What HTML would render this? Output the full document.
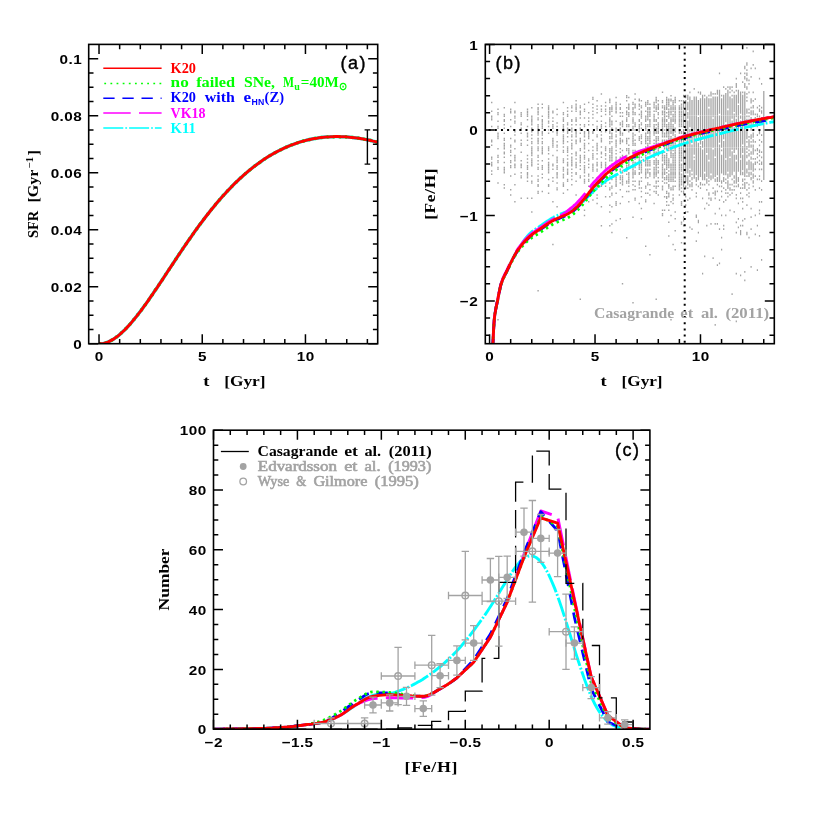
<!DOCTYPE html>
<html><head><meta charset="utf-8"><title>fig</title><style>html,body{margin:0;padding:0;background:#fff}svg{display:block;will-change:transform}</style></head><body>
<svg width="817" height="817" viewBox="0 0 817 817">
<rect width="817" height="817" fill="#fff"/>
<clipPath id="ca"><rect x="88.7" y="44.4" width="289.0" height="299.3"/></clipPath>
<g clip-path="url(#ca)" fill="none" stroke-linejoin="round">
<path d="M99 343.7 L101.4 343.7 L103.7 343.4 L106 342.8 L108.4 341.9 L110.7 340.7 L113.1 339.4 L115.4 337.8 L117.8 336.1 L120.1 334.2 L122.4 332 L124.8 329.8 L127.1 327.4 L129.5 324.8 L131.8 322.1 L134.1 319.3 L136.5 316.4 L138.8 313.4 L141.2 310.3 L143.5 307.1 L145.9 303.9 L148.2 300.6 L150.5 297.2 L152.9 293.8 L155.2 290.3 L157.6 286.9 L159.9 283.3 L162.3 279.8 L164.6 276.3 L166.9 272.7 L169.3 269.1 L171.6 265.6 L174 262 L176.3 258.5 L178.6 255 L181 251.5 L183.3 248 L185.7 244.6 L188 241.2 L190.4 237.8 L192.7 234.5 L195 231.2 L197.4 227.9 L199.7 224.7 L202.1 221.6 L204.4 218.5 L206.7 215.5 L209.1 212.5 L211.4 209.5 L213.8 206.7 L216.1 203.8 L218.5 201.1 L220.8 198.4 L223.1 195.7 L225.5 193.2 L227.8 190.6 L230.2 188.2 L232.5 185.8 L234.8 183.4 L237.2 181.2 L239.5 178.9 L241.9 176.8 L244.2 174.7 L246.6 172.7 L248.9 170.7 L251.2 168.8 L253.6 166.9 L255.9 165.2 L258.3 163.4 L260.6 161.8 L262.9 160.1 L265.3 158.6 L267.6 157.1 L270 155.6 L272.3 154.3 L274.7 152.9 L277 151.7 L279.3 150.5 L281.7 149.3 L284 148.2 L286.4 147.1 L288.7 146.1 L291.1 145.2 L293.4 144.3 L295.7 143.5 L298.1 142.7 L300.4 141.9 L302.8 141.2 L305.1 140.6 L307.4 140 L309.8 139.5 L312.1 139 L314.5 138.5 L316.8 138.2 L319.2 137.8 L321.5 137.5 L323.8 137.2 L326.2 137 L328.5 136.9 L330.9 136.7 L333.2 136.7 L335.5 136.6 L337.9 136.6 L340.2 136.7 L342.6 136.7 L344.9 136.8 L347.3 137 L349.6 137.2 L351.9 137.4 L354.3 137.7 L356.6 138 L359 138.3 L361.3 138.7 L363.6 139.1 L366 139.6 L368.3 140 L370.7 140.5 L373 141.1 L375.4 141.6 L377.7 142.2" stroke="#00ffff" stroke-width="3.4"/>
<path d="M99 343.7 L101.4 343.7 L103.7 343.4 L106 342.8 L108.4 341.9 L110.7 340.7 L113.1 339.4 L115.4 337.8 L117.8 336.1 L120.1 334.2 L122.4 332 L124.8 329.8 L127.1 327.4 L129.5 324.8 L131.8 322.1 L134.1 319.3 L136.5 316.4 L138.8 313.4 L141.2 310.3 L143.5 307.1 L145.9 303.9 L148.2 300.6 L150.5 297.2 L152.9 293.8 L155.2 290.3 L157.6 286.9 L159.9 283.3 L162.3 279.8 L164.6 276.3 L166.9 272.7 L169.3 269.1 L171.6 265.6 L174 262 L176.3 258.5 L178.6 255 L181 251.5 L183.3 248 L185.7 244.6 L188 241.2 L190.4 237.8 L192.7 234.5 L195 231.2 L197.4 227.9 L199.7 224.7 L202.1 221.6 L204.4 218.5 L206.7 215.5 L209.1 212.5 L211.4 209.5 L213.8 206.7 L216.1 203.8 L218.5 201.1 L220.8 198.4 L223.1 195.7 L225.5 193.2 L227.8 190.6 L230.2 188.2 L232.5 185.8 L234.8 183.4 L237.2 181.2 L239.5 178.9 L241.9 176.8 L244.2 174.7 L246.6 172.7 L248.9 170.7 L251.2 168.8 L253.6 166.9 L255.9 165.2 L258.3 163.4 L260.6 161.8 L262.9 160.1 L265.3 158.6 L267.6 157.1 L270 155.6 L272.3 154.3 L274.7 152.9 L277 151.7 L279.3 150.5 L281.7 149.3 L284 148.2 L286.4 147.1 L288.7 146.1 L291.1 145.2 L293.4 144.3 L295.7 143.5 L298.1 142.7 L300.4 141.9 L302.8 141.2 L305.1 140.6 L307.4 140 L309.8 139.5 L312.1 139 L314.5 138.5 L316.8 138.2 L319.2 137.8 L321.5 137.5 L323.8 137.2 L326.2 137 L328.5 136.9 L330.9 136.7 L333.2 136.7 L335.5 136.6 L337.9 136.6 L340.2 136.7 L342.6 136.7 L344.9 136.8 L347.3 137 L349.6 137.2 L351.9 137.4 L354.3 137.7 L356.6 138 L359 138.3 L361.3 138.7 L363.6 139.1 L366 139.6 L368.3 140 L370.7 140.5 L373 141.1 L375.4 141.6 L377.7 142.2" stroke="#00ff00" stroke-width="3.4" stroke-dasharray="2 4.13"/>
<path d="M99 343.7 L101.4 343.7 L103.7 343.4 L106 342.8 L108.4 341.9 L110.7 340.7 L113.1 339.4 L115.4 337.8 L117.8 336.1 L120.1 334.2 L122.4 332 L124.8 329.8 L127.1 327.4 L129.5 324.8 L131.8 322.1 L134.1 319.3 L136.5 316.4 L138.8 313.4 L141.2 310.3 L143.5 307.1 L145.9 303.9 L148.2 300.6 L150.5 297.2 L152.9 293.8 L155.2 290.3 L157.6 286.9 L159.9 283.3 L162.3 279.8 L164.6 276.3 L166.9 272.7 L169.3 269.1 L171.6 265.6 L174 262 L176.3 258.5 L178.6 255 L181 251.5 L183.3 248 L185.7 244.6 L188 241.2 L190.4 237.8 L192.7 234.5 L195 231.2 L197.4 227.9 L199.7 224.7 L202.1 221.6 L204.4 218.5 L206.7 215.5 L209.1 212.5 L211.4 209.5 L213.8 206.7 L216.1 203.8 L218.5 201.1 L220.8 198.4 L223.1 195.7 L225.5 193.2 L227.8 190.6 L230.2 188.2 L232.5 185.8 L234.8 183.4 L237.2 181.2 L239.5 178.9 L241.9 176.8 L244.2 174.7 L246.6 172.7 L248.9 170.7 L251.2 168.8 L253.6 166.9 L255.9 165.2 L258.3 163.4 L260.6 161.8 L262.9 160.1 L265.3 158.6 L267.6 157.1 L270 155.6 L272.3 154.3 L274.7 152.9 L277 151.7 L279.3 150.5 L281.7 149.3 L284 148.2 L286.4 147.1 L288.7 146.1 L291.1 145.2 L293.4 144.3 L295.7 143.5 L298.1 142.7 L300.4 141.9 L302.8 141.2 L305.1 140.6 L307.4 140 L309.8 139.5 L312.1 139 L314.5 138.5 L316.8 138.2 L319.2 137.8 L321.5 137.5 L323.8 137.2 L326.2 137 L328.5 136.9 L330.9 136.7 L333.2 136.7 L335.5 136.6 L337.9 136.6 L340.2 136.7 L342.6 136.7 L344.9 136.8 L347.3 137 L349.6 137.2 L351.9 137.4 L354.3 137.7 L356.6 138 L359 138.3 L361.3 138.7 L363.6 139.1 L366 139.6 L368.3 140 L370.7 140.5 L373 141.1 L375.4 141.6 L377.7 142.2" stroke="#ff0000" stroke-width="3.0"/>
</g>
<path d="M367.4 129.9V164.1 M364.6 129.9h5.6 M364.6 164.1h5.6" stroke="#000" stroke-width="1.4" fill="none"/>
<path d="M119.66 343.70v-4.8 M119.66 44.40v4.8 M140.31 343.70v-4.8 M140.31 44.40v4.8 M160.95 343.70v-4.8 M160.95 44.40v4.8 M181.59 343.70v-4.8 M181.59 44.40v4.8 M222.88 343.70v-4.8 M222.88 44.40v4.8 M243.52 343.70v-4.8 M243.52 44.40v4.8 M264.16 343.70v-4.8 M264.16 44.40v4.8 M284.81 343.70v-4.8 M284.81 44.40v4.8 M326.09 343.70v-4.8 M326.09 44.40v4.8 M346.74 343.70v-4.8 M346.74 44.40v4.8 M367.38 343.70v-4.8 M367.38 44.40v4.8 M99.02 343.70v-9.5 M99.02 44.40v9.5 M202.24 343.70v-9.5 M202.24 44.40v9.5 M305.45 343.70v-9.5 M305.45 44.40v9.5 M88.70 329.45h4.8 M377.70 329.45h-4.8 M88.70 315.20h4.8 M377.70 315.20h-4.8 M88.70 300.94h4.8 M377.70 300.94h-4.8 M88.70 272.44h4.8 M377.70 272.44h-4.8 M88.70 258.19h4.8 M377.70 258.19h-4.8 M88.70 243.93h4.8 M377.70 243.93h-4.8 M88.70 215.43h4.8 M377.70 215.43h-4.8 M88.70 201.18h4.8 M377.70 201.18h-4.8 M88.70 186.92h4.8 M377.70 186.92h-4.8 M88.70 158.42h4.8 M377.70 158.42h-4.8 M88.70 144.17h4.8 M377.70 144.17h-4.8 M88.70 129.91h4.8 M377.70 129.91h-4.8 M88.70 101.41h4.8 M377.70 101.41h-4.8 M88.70 87.16h4.8 M377.70 87.16h-4.8 M88.70 72.90h4.8 M377.70 72.90h-4.8 M88.70 343.70h9.5 M377.70 343.70h-9.5 M88.70 286.69h9.5 M377.70 286.69h-9.5 M88.70 229.68h9.5 M377.70 229.68h-9.5 M88.70 172.67h9.5 M377.70 172.67h-9.5 M88.70 115.66h9.5 M377.70 115.66h-9.5 M88.70 58.65h9.5 M377.70 58.65h-9.5" stroke="#000" stroke-width="1.50" fill="none"/>
<rect x="88.70" y="44.40" width="289.00" height="299.30" fill="none" stroke="#000" stroke-width="1.60"/>
<text transform="translate(99.2,361.1) scale(1.16,1)" font-family="'Liberation Sans', sans-serif" font-size="13.2px" font-weight="bold" text-anchor="middle" letter-spacing="0.35">0</text>
<text transform="translate(202.4,361.1) scale(1.16,1)" font-family="'Liberation Sans', sans-serif" font-size="13.2px" font-weight="bold" text-anchor="middle" letter-spacing="0.35">5</text>
<text transform="translate(305.7,361.1) scale(1.16,1)" font-family="'Liberation Sans', sans-serif" font-size="13.2px" font-weight="bold" text-anchor="middle" letter-spacing="0.35">10</text>
<text transform="translate(82.1,348.9) scale(1.16,1)" font-family="'Liberation Sans', sans-serif" font-size="13.2px" font-weight="bold" text-anchor="end" letter-spacing="0.35">0</text>
<text transform="translate(82.1,291.9) scale(1.16,1)" font-family="'Liberation Sans', sans-serif" font-size="13.2px" font-weight="bold" text-anchor="end" letter-spacing="0.35">0.02</text>
<text transform="translate(82.1,234.9) scale(1.16,1)" font-family="'Liberation Sans', sans-serif" font-size="13.2px" font-weight="bold" text-anchor="end" letter-spacing="0.35">0.04</text>
<text transform="translate(82.1,177.9) scale(1.16,1)" font-family="'Liberation Sans', sans-serif" font-size="13.2px" font-weight="bold" text-anchor="end" letter-spacing="0.35">0.06</text>
<text transform="translate(82.1,120.9) scale(1.16,1)" font-family="'Liberation Sans', sans-serif" font-size="13.2px" font-weight="bold" text-anchor="end" letter-spacing="0.35">0.08</text>
<text transform="translate(82.1,63.9) scale(1.16,1)" font-family="'Liberation Sans', sans-serif" font-size="13.2px" font-weight="bold" text-anchor="end" letter-spacing="0.35">0.1</text>
<g fill="none" stroke-width="1.5">
<path d="M103.3 68.2H161.6" stroke="#ff0000"/>
<path d="M103.3 83.4H161.6" stroke="#00ff00" stroke-dasharray="1.8 4.33" stroke-dashoffset="-1"/>
<path d="M103.3 98.3H161.6" stroke="#0000ff" stroke-dasharray="11.3 7.8"/>
<path d="M103.3 113.1H161.6" stroke="#ff00ff" stroke-dasharray="27.4 8.3"/>
<path d="M103.3 128.0H161.6" stroke="#00ffff" stroke-dasharray="20 2 1.8 2"/>
</g>
<text x="170.6" y="73.1" font-family="'Liberation Serif', serif" font-size="14.0px" font-weight="bold" fill="#ff0000" textLength="25.4" lengthAdjust="spacingAndGlyphs" >K20</text>
<text x="170.6" y="86.5" font-family="'Liberation Serif', serif" font-size="14.0px" font-weight="bold" fill="#00ff00" textLength="18.2" lengthAdjust="spacingAndGlyphs" >no</text>
<text x="196.2" y="86.5" font-family="'Liberation Serif', serif" font-size="14.0px" font-weight="bold" fill="#00ff00" textLength="39.0" lengthAdjust="spacingAndGlyphs" >failed</text>
<text x="244.0" y="86.5" font-family="'Liberation Serif', serif" font-size="14.0px" font-weight="bold" fill="#00ff00" textLength="31.0" lengthAdjust="spacingAndGlyphs" >SNe,</text>
<text x="283.0" y="86.5" font-family="'Liberation Serif', serif" font-size="14.0px" font-weight="bold" fill="#00ff00" textLength="11.0" lengthAdjust="spacingAndGlyphs" >M</text>
<text x="294.2" y="89.9" font-family="'Liberation Serif', serif" font-size="9.5px" font-weight="bold" fill="#00ff00" textLength="5.6" lengthAdjust="spacingAndGlyphs" >u</text>
<text x="300.8" y="86.5" font-family="'Liberation Serif', serif" font-size="14.0px" font-weight="bold" fill="#00ff00" textLength="38.0" lengthAdjust="spacingAndGlyphs" >=40M</text>
<text x="338.8" y="90.3" font-family="'Liberation Serif', serif" font-size="11.0px" font-weight="bold" fill="#00ff00" textLength="8.0" lengthAdjust="spacingAndGlyphs" >&#8857;</text>
<text x="170.6" y="101.6" font-family="'Liberation Serif', serif" font-size="14.0px" font-weight="bold" fill="#0000ff" textLength="25.4" lengthAdjust="spacingAndGlyphs" >K20</text>
<text x="204.8" y="101.6" font-family="'Liberation Serif', serif" font-size="14.0px" font-weight="bold" fill="#0000ff" textLength="30.0" lengthAdjust="spacingAndGlyphs" >with</text>
<text x="243.4" y="101.6" font-family="'Liberation Serif', serif" font-size="14.0px" font-weight="bold" fill="#0000ff" textLength="7.6" lengthAdjust="spacingAndGlyphs" >e</text>
<text x="251.6" y="105.0" font-family="'Liberation Sans', sans-serif" font-size="8.5px" font-weight="bold" fill="#0000ff" textLength="12.6" lengthAdjust="spacingAndGlyphs" >HN</text>
<text x="264.6" y="101.6" font-family="'Liberation Serif', serif" font-size="14.0px" font-weight="bold" fill="#0000ff" textLength="19.4" lengthAdjust="spacingAndGlyphs" >(Z)</text>
<text x="170.6" y="117.8" font-family="'Liberation Serif', serif" font-size="14.0px" font-weight="bold" fill="#ff00ff" textLength="35.0" lengthAdjust="spacingAndGlyphs" >VK18</text>
<text x="170.6" y="132.9" font-family="'Liberation Serif', serif" font-size="14.0px" font-weight="bold" fill="#00ffff" textLength="25.2" lengthAdjust="spacingAndGlyphs" >K11</text>
<text x="340.5" y="69.3" font-family="'Liberation Sans', sans-serif" font-size="18.0px" font-weight="normal" text-anchor="start" fill="#000" letter-spacing="1.50" stroke="#000" stroke-width="0.4">(a)</text>
<text x="203.3" y="386.2" font-family="'Liberation Serif', serif" font-size="14.0px" font-weight="bold" fill="#000" textLength="6.2" lengthAdjust="spacingAndGlyphs" >t</text>
<text x="224.2" y="386.2" font-family="'Liberation Serif', serif" font-size="14.0px" font-weight="bold" fill="#000" textLength="41.4" lengthAdjust="spacingAndGlyphs" >[Gyr]</text>
<g transform="translate(38.3,238.1) rotate(-90)">
<text x="0.0" y="0.0" font-family="'Liberation Serif', serif" font-size="14.0px" font-weight="bold" fill="#000" textLength="27.2" lengthAdjust="spacingAndGlyphs" >SFR</text>
<text x="35.5" y="0.0" font-family="'Liberation Serif', serif" font-size="14.0px" font-weight="bold" fill="#000" textLength="33.0" lengthAdjust="spacingAndGlyphs" >[Gyr</text>
<text x="69.8" y="-5.0" font-family="'Liberation Serif', serif" font-size="9.5px" font-weight="bold" fill="#000" textLength="11.5" lengthAdjust="spacingAndGlyphs" >&#8722;1</text>
<text x="82.5" y="0.0" font-family="'Liberation Serif', serif" font-size="14.0px" font-weight="bold" fill="#000" textLength="5.5" lengthAdjust="spacingAndGlyphs" >]</text>
</g>
<clipPath id="cb"><rect x="485.3" y="44.4" width="289.0" height="299.3"/></clipPath>
<g clip-path="url(#cb)">
<path d="M491.7 173.6v1.50M491.7 170.2v1.50M491.7 165.1v1.50M491.7 163.4v1.50M491.7 161.7v1.50M491.7 158.2v1.50M491.7 156.5v1.50M491.7 144.6v1.50M491.7 141.1v1.50M491.7 139.4v1.50M491.7 125.7v1.50M491.7 118.9v1.50M491.7 117.2v1.50M491.7 115.5v1.50M491.7 110.4v1.50M491.7 101.8v1.50M498.0 319.0v1.50M498.0 182.2v1.50M498.0 168.5v1.50M498.0 166.8v1.50M498.0 161.7v1.50M498.0 159.9v1.50M498.0 156.5v1.50M498.0 154.8v1.50M498.0 148.0v1.50M498.0 137.7v1.50M498.0 136.0v1.50M498.0 134.3v1.50M498.0 132.6v1.50M498.0 127.5v1.50M498.0 125.7v1.50M498.0 120.6v1.50M498.0 113.8v1.50M498.0 112.1v1.50M498.0 108.6v1.50M504.3 187.3v1.50M504.3 183.9v1.50M504.3 171.9v1.50M504.3 170.2v1.50M504.3 168.5v1.50M504.3 166.8v1.50M504.3 161.7v1.50M504.3 156.5v1.50M504.3 153.1v1.50M504.3 151.4v1.50M504.3 148.0v1.50M504.3 146.3v1.50M504.3 144.6v1.50M504.3 142.8v1.50M504.3 139.4v1.50M504.3 137.7v1.50M504.3 132.6v1.50M504.3 127.5v1.50M504.3 124.0v1.50M504.3 120.6v1.50M504.3 118.9v1.50M504.3 115.5v1.50M504.3 113.8v1.50M504.3 106.9v1.50M510.7 194.2v1.50M510.7 189.0v1.50M510.7 175.3v1.50M510.7 166.8v1.50M510.7 165.1v1.50M510.7 161.7v1.50M510.7 159.9v1.50M510.7 154.8v1.50M510.7 151.4v1.50M510.7 149.7v1.50M510.7 146.3v1.50M510.7 144.6v1.50M510.7 137.7v1.50M510.7 125.7v1.50M510.7 118.9v1.50M510.7 112.1v1.50M510.7 110.4v1.50M510.7 108.6v1.50M514.9 201.0v1.50M514.9 183.9v1.50M514.9 173.6v1.50M514.9 166.8v1.50M514.9 165.1v1.50M514.9 163.4v1.50M514.9 159.9v1.50M514.9 158.2v1.50M514.9 156.5v1.50M514.9 154.8v1.50M514.9 148.0v1.50M514.9 141.1v1.50M514.9 139.4v1.50M514.9 134.3v1.50M514.9 130.9v1.50M514.9 129.2v1.50M514.9 122.3v1.50M514.9 120.6v1.50M514.9 117.2v1.50M514.9 115.5v1.50M514.9 112.1v1.50M514.9 110.4v1.50M514.9 101.8v1.50M521.2 197.6v1.50M521.2 177.1v1.50M521.2 175.3v1.50M521.2 171.9v1.50M521.2 166.8v1.50M521.2 165.1v1.50M521.2 163.4v1.50M521.2 159.9v1.50M521.2 151.4v1.50M521.2 144.6v1.50M521.2 142.8v1.50M521.2 139.4v1.50M521.2 132.6v1.50M521.2 129.2v1.50M521.2 127.5v1.50M521.2 124.0v1.50M521.2 122.3v1.50M521.2 115.5v1.50M521.2 113.8v1.50M521.2 112.1v1.50M527.5 197.6v1.50M527.5 180.5v1.50M527.5 177.1v1.50M527.5 175.3v1.50M527.5 173.6v1.50M527.5 171.9v1.50M527.5 168.5v1.50M527.5 166.8v1.50M527.5 165.1v1.50M527.5 161.7v1.50M527.5 158.2v1.50M527.5 154.8v1.50M527.5 144.6v1.50M527.5 139.4v1.50M527.5 136.0v1.50M527.5 134.3v1.50M527.5 132.6v1.50M527.5 125.7v1.50M527.5 118.9v1.50M527.5 115.5v1.50M527.5 113.8v1.50M527.5 112.1v1.50M527.5 110.4v1.50M527.5 108.6v1.50M531.8 211.3v1.50M531.8 197.6v1.50M531.8 182.2v1.50M531.8 180.5v1.50M531.8 175.3v1.50M531.8 165.1v1.50M531.8 163.4v1.50M531.8 161.7v1.50M531.8 159.9v1.50M531.8 158.2v1.50M531.8 154.8v1.50M531.8 153.1v1.50M531.8 151.4v1.50M531.8 149.7v1.50M531.8 148.0v1.50M531.8 146.3v1.50M531.8 142.8v1.50M531.8 141.1v1.50M531.8 137.7v1.50M531.8 134.3v1.50M531.8 130.9v1.50M531.8 129.2v1.50M531.8 127.5v1.50M531.8 124.0v1.50M531.8 122.3v1.50M531.8 120.6v1.50M531.8 118.9v1.50M531.8 117.2v1.50M531.8 115.5v1.50M531.8 106.9v1.50M538.1 289.9v1.50M538.1 192.4v1.50M538.1 190.7v1.50M538.1 185.6v1.50M538.1 183.9v1.50M538.1 180.5v1.50M538.1 178.8v1.50M538.1 175.3v1.50M538.1 168.5v1.50M538.1 166.8v1.50M538.1 163.4v1.50M538.1 159.9v1.50M538.1 156.5v1.50M538.1 154.8v1.50M538.1 149.7v1.50M538.1 148.0v1.50M538.1 146.3v1.50M538.1 142.8v1.50M538.1 141.1v1.50M538.1 139.4v1.50M538.1 137.7v1.50M538.1 134.3v1.50M538.1 132.6v1.50M538.1 130.9v1.50M538.1 129.2v1.50M538.1 127.5v1.50M538.1 125.7v1.50M538.1 124.0v1.50M538.1 118.9v1.50M538.1 117.2v1.50M538.1 113.8v1.50M538.1 112.1v1.50M538.1 110.4v1.50M538.1 108.6v1.50M538.1 106.9v1.50M538.1 103.5v1.50M542.3 190.7v1.50M542.3 177.1v1.50M542.3 173.6v1.50M542.3 168.5v1.50M542.3 166.8v1.50M542.3 165.1v1.50M542.3 159.9v1.50M542.3 153.1v1.50M542.3 151.4v1.50M542.3 149.7v1.50M542.3 148.0v1.50M542.3 146.3v1.50M542.3 142.8v1.50M542.3 141.1v1.50M542.3 137.7v1.50M542.3 134.3v1.50M542.3 132.6v1.50M542.3 130.9v1.50M542.3 127.5v1.50M542.3 125.7v1.50M542.3 124.0v1.50M542.3 122.3v1.50M542.3 120.6v1.50M542.3 118.9v1.50M542.3 115.5v1.50M542.3 106.9v1.50M542.3 103.5v1.50M548.6 192.4v1.50M548.6 185.6v1.50M548.6 183.9v1.50M548.6 178.8v1.50M548.6 171.9v1.50M548.6 170.2v1.50M548.6 168.5v1.50M548.6 166.8v1.50M548.6 165.1v1.50M548.6 163.4v1.50M548.6 161.7v1.50M548.6 158.2v1.50M548.6 153.1v1.50M548.6 149.7v1.50M548.6 148.0v1.50M548.6 146.3v1.50M548.6 132.6v1.50M548.6 129.2v1.50M548.6 125.7v1.50M548.6 122.3v1.50M548.6 120.6v1.50M548.6 117.2v1.50M548.6 115.5v1.50M548.6 113.8v1.50M548.6 112.1v1.50M548.6 110.4v1.50M548.6 108.6v1.50M548.6 106.9v1.50M548.6 105.2v1.50M552.9 243.8v1.50M552.9 201.0v1.50M552.9 180.5v1.50M552.9 177.1v1.50M552.9 168.5v1.50M552.9 165.1v1.50M552.9 163.4v1.50M552.9 154.8v1.50M552.9 146.3v1.50M552.9 144.6v1.50M552.9 142.8v1.50M552.9 141.1v1.50M552.9 139.4v1.50M552.9 137.7v1.50M552.9 130.9v1.50M552.9 127.5v1.50M552.9 125.7v1.50M552.9 124.0v1.50M552.9 120.6v1.50M552.9 117.2v1.50M552.9 112.1v1.50M552.9 110.4v1.50M557.1 206.1v1.50M557.1 189.0v1.50M557.1 187.3v1.50M557.1 182.2v1.50M557.1 177.1v1.50M557.1 175.3v1.50M557.1 173.6v1.50M557.1 171.9v1.50M557.1 168.5v1.50M557.1 166.8v1.50M557.1 165.1v1.50M557.1 161.7v1.50M557.1 159.9v1.50M557.1 158.2v1.50M557.1 156.5v1.50M557.1 149.7v1.50M557.1 146.3v1.50M557.1 144.6v1.50M557.1 141.1v1.50M557.1 134.3v1.50M557.1 132.6v1.50M557.1 130.9v1.50M557.1 125.7v1.50M557.1 122.3v1.50M557.1 113.8v1.50M557.1 108.6v1.50M563.4 192.4v1.50M563.4 185.6v1.50M563.4 183.9v1.50M563.4 182.2v1.50M563.4 177.1v1.50M563.4 175.3v1.50M563.4 173.6v1.50M563.4 170.2v1.50M563.4 168.5v1.50M563.4 166.8v1.50M563.4 161.7v1.50M563.4 159.9v1.50M563.4 158.2v1.50M563.4 151.4v1.50M563.4 149.7v1.50M563.4 146.3v1.50M563.4 142.8v1.50M563.4 141.1v1.50M563.4 139.4v1.50M563.4 137.7v1.50M563.4 136.0v1.50M563.4 134.3v1.50M563.4 130.9v1.50M563.4 129.2v1.50M563.4 127.5v1.50M563.4 125.7v1.50M563.4 124.0v1.50M563.4 120.6v1.50M563.4 118.9v1.50M563.4 117.2v1.50M563.4 113.8v1.50M563.4 112.1v1.50M563.4 101.8v1.50M567.6 189.0v1.50M567.6 180.5v1.50M567.6 178.8v1.50M567.6 173.6v1.50M567.6 171.9v1.50M567.6 170.2v1.50M567.6 168.5v1.50M567.6 165.1v1.50M567.6 163.4v1.50M567.6 161.7v1.50M567.6 158.2v1.50M567.6 154.8v1.50M567.6 151.4v1.50M567.6 149.7v1.50M567.6 148.0v1.50M567.6 146.3v1.50M567.6 141.1v1.50M567.6 136.0v1.50M567.6 132.6v1.50M567.6 130.9v1.50M567.6 129.2v1.50M567.6 127.5v1.50M567.6 124.0v1.50M567.6 122.3v1.50M567.6 115.5v1.50M567.6 113.8v1.50M567.6 110.4v1.50M567.6 106.9v1.50M571.8 183.9v1.50M571.8 178.8v1.50M571.8 175.3v1.50M571.8 171.9v1.50M571.8 168.5v1.50M571.8 165.1v1.50M571.8 163.4v1.50M571.8 161.7v1.50M571.8 159.9v1.50M571.8 158.2v1.50M571.8 156.5v1.50M571.8 153.1v1.50M571.8 148.0v1.50M571.8 146.3v1.50M571.8 144.6v1.50M571.8 142.8v1.50M571.8 139.4v1.50M571.8 136.0v1.50M571.8 134.3v1.50M571.8 130.9v1.50M571.8 129.2v1.50M571.8 127.5v1.50M571.8 124.0v1.50M571.8 120.6v1.50M571.8 118.9v1.50M571.8 110.4v1.50M571.8 106.9v1.50M571.8 105.2v1.50M576.1 194.2v1.50M576.1 180.5v1.50M576.1 173.6v1.50M576.1 171.9v1.50M576.1 166.8v1.50M576.1 165.1v1.50M576.1 163.4v1.50M576.1 161.7v1.50M576.1 158.2v1.50M576.1 154.8v1.50M576.1 153.1v1.50M576.1 151.4v1.50M576.1 142.8v1.50M576.1 141.1v1.50M576.1 139.4v1.50M576.1 136.0v1.50M576.1 134.3v1.50M576.1 132.6v1.50M576.1 130.9v1.50M576.1 124.0v1.50M576.1 120.6v1.50M576.1 118.9v1.50M576.1 117.2v1.50M576.1 110.4v1.50M576.1 108.6v1.50M576.1 106.9v1.50M576.1 105.2v1.50M576.1 103.5v1.50M576.1 100.1v1.50M580.3 298.5v1.50M580.3 177.1v1.50M580.3 175.3v1.50M580.3 168.5v1.50M580.3 165.1v1.50M580.3 161.7v1.50M580.3 159.9v1.50M580.3 158.2v1.50M580.3 156.5v1.50M580.3 154.8v1.50M580.3 149.7v1.50M580.3 148.0v1.50M580.3 141.1v1.50M580.3 139.4v1.50M580.3 137.7v1.50M580.3 132.6v1.50M580.3 129.2v1.50M580.3 127.5v1.50M580.3 124.0v1.50M580.3 117.2v1.50M580.3 113.8v1.50M580.3 112.1v1.50M580.3 110.4v1.50M580.3 106.9v1.50M580.3 105.2v1.50M584.5 214.7v1.50M584.5 209.5v1.50M584.5 195.9v1.50M584.5 182.2v1.50M584.5 180.5v1.50M584.5 178.8v1.50M584.5 175.3v1.50M584.5 171.9v1.50M584.5 170.2v1.50M584.5 168.5v1.50M584.5 166.8v1.50M584.5 165.1v1.50M584.5 161.7v1.50M584.5 158.2v1.50M584.5 156.5v1.50M584.5 154.8v1.50M584.5 151.4v1.50M584.5 148.0v1.50M584.5 146.3v1.50M584.5 144.6v1.50M584.5 142.8v1.50M584.5 139.4v1.50M584.5 136.0v1.50M584.5 134.3v1.50M584.5 132.6v1.50M584.5 130.9v1.50M584.5 125.7v1.50M584.5 124.0v1.50M584.5 117.2v1.50M584.5 110.4v1.50M584.5 108.6v1.50M584.5 103.5v1.50M588.7 201.0v1.50M588.7 185.6v1.50M588.7 180.5v1.50M588.7 178.8v1.50M588.7 175.3v1.50M588.7 173.6v1.50M588.7 166.8v1.50M588.7 163.4v1.50M588.7 159.9v1.50M588.7 158.2v1.50M588.7 149.7v1.50M588.7 142.8v1.50M588.7 137.7v1.50M588.7 136.0v1.50M588.7 134.3v1.50M588.7 132.6v1.50M588.7 130.9v1.50M588.7 124.0v1.50M588.7 120.6v1.50M588.7 117.2v1.50M588.7 112.1v1.50M588.7 101.8v1.50M592.9 199.3v1.50M592.9 192.4v1.50M592.9 187.3v1.50M592.9 183.9v1.50M592.9 182.2v1.50M592.9 177.1v1.50M592.9 170.2v1.50M592.9 168.5v1.50M592.9 166.8v1.50M592.9 165.1v1.50M592.9 163.4v1.50M592.9 158.2v1.50M592.9 156.5v1.50M592.9 154.8v1.50M592.9 153.1v1.50M592.9 149.7v1.50M592.9 146.3v1.50M592.9 139.4v1.50M592.9 132.6v1.50M592.9 130.9v1.50M592.9 124.0v1.50M592.9 117.2v1.50M592.9 113.8v1.50M592.9 110.4v1.50M592.9 106.9v1.50M592.9 103.5v1.50M592.9 98.4v1.50M592.9 96.7v1.50M597.1 202.7v1.50M597.1 197.6v1.50M597.1 194.2v1.50M597.1 187.3v1.50M597.1 185.6v1.50M597.1 183.9v1.50M597.1 182.2v1.50M597.1 180.5v1.50M597.1 178.8v1.50M597.1 177.1v1.50M597.1 170.2v1.50M597.1 168.5v1.50M597.1 165.1v1.50M597.1 163.4v1.50M597.1 161.7v1.50M597.1 158.2v1.50M597.1 153.1v1.50M597.1 149.7v1.50M597.1 148.0v1.50M597.1 146.3v1.50M597.1 144.6v1.50M597.1 142.8v1.50M597.1 136.0v1.50M597.1 134.3v1.50M597.1 129.2v1.50M597.1 127.5v1.50M597.1 125.7v1.50M597.1 120.6v1.50M597.1 112.1v1.50M597.1 108.6v1.50M597.1 105.2v1.50M597.1 100.1v1.50M601.4 224.9v1.50M601.4 206.1v1.50M601.4 185.6v1.50M601.4 183.9v1.50M601.4 182.2v1.50M601.4 178.8v1.50M601.4 166.8v1.50M601.4 165.1v1.50M601.4 163.4v1.50M601.4 161.7v1.50M601.4 156.5v1.50M601.4 153.1v1.50M601.4 151.4v1.50M601.4 146.3v1.50M601.4 141.1v1.50M601.4 139.4v1.50M601.4 137.7v1.50M601.4 134.3v1.50M601.4 130.9v1.50M601.4 127.5v1.50M601.4 125.7v1.50M601.4 124.0v1.50M601.4 120.6v1.50M601.4 115.5v1.50M601.4 110.4v1.50M601.4 108.6v1.50M601.4 105.2v1.50M601.4 93.2v1.50M605.6 195.9v1.50M605.6 185.6v1.50M605.6 182.2v1.50M605.6 178.8v1.50M605.6 168.5v1.50M605.6 166.8v1.50M605.6 165.1v1.50M605.6 163.4v1.50M605.6 161.7v1.50M605.6 158.2v1.50M605.6 154.8v1.50M605.6 153.1v1.50M605.6 149.7v1.50M605.6 148.0v1.50M605.6 146.3v1.50M605.6 130.9v1.50M605.6 125.7v1.50M605.6 122.3v1.50M605.6 113.8v1.50M605.6 110.4v1.50M605.6 108.6v1.50M605.6 105.2v1.50M605.6 101.8v1.50M609.8 224.9v1.50M609.8 211.3v1.50M609.8 204.4v1.50M609.8 195.9v1.50M609.8 189.0v1.50M609.8 187.3v1.50M609.8 182.2v1.50M609.8 175.3v1.50M609.8 171.9v1.50M609.8 170.2v1.50M609.8 165.1v1.50M609.8 159.9v1.50M609.8 158.2v1.50M609.8 156.5v1.50M609.8 154.8v1.50M609.8 151.4v1.50M609.8 149.7v1.50M609.8 148.0v1.50M609.8 142.8v1.50M609.8 141.1v1.50M609.8 137.7v1.50M609.8 136.0v1.50M609.8 132.6v1.50M609.8 130.9v1.50M609.8 129.2v1.50M609.8 125.7v1.50M609.8 124.0v1.50M609.8 122.3v1.50M609.8 120.6v1.50M609.8 118.9v1.50M609.8 117.2v1.50M609.8 113.8v1.50M609.8 112.1v1.50M609.8 110.4v1.50M609.8 108.6v1.50M609.8 106.9v1.50M609.8 101.8v1.50M609.8 100.1v1.50M609.8 98.4v1.50M611.9 231.8v1.50M611.9 223.2v1.50M611.9 206.1v1.50M611.9 194.2v1.50M611.9 192.4v1.50M611.9 187.3v1.50M611.9 185.6v1.50M611.9 178.8v1.50M611.9 171.9v1.50M611.9 168.5v1.50M611.9 165.1v1.50M611.9 163.4v1.50M611.9 159.9v1.50M611.9 158.2v1.50M611.9 156.5v1.50M611.9 154.8v1.50M611.9 153.1v1.50M611.9 151.4v1.50M611.9 149.7v1.50M611.9 148.0v1.50M611.9 146.3v1.50M611.9 141.1v1.50M611.9 137.7v1.50M611.9 136.0v1.50M611.9 134.3v1.50M611.9 132.6v1.50M611.9 129.2v1.50M611.9 127.5v1.50M611.9 124.0v1.50M611.9 122.3v1.50M611.9 120.6v1.50M611.9 115.5v1.50M611.9 110.4v1.50M611.9 108.6v1.50M611.9 106.9v1.50M611.9 105.2v1.50M616.1 219.8v1.50M616.1 204.4v1.50M616.1 202.7v1.50M616.1 201.0v1.50M616.1 192.4v1.50M616.1 185.6v1.50M616.1 183.9v1.50M616.1 182.2v1.50M616.1 180.5v1.50M616.1 178.8v1.50M616.1 177.1v1.50M616.1 175.3v1.50M616.1 170.2v1.50M616.1 168.5v1.50M616.1 165.1v1.50M616.1 163.4v1.50M616.1 161.7v1.50M616.1 159.9v1.50M616.1 158.2v1.50M616.1 156.5v1.50M616.1 153.1v1.50M616.1 149.7v1.50M616.1 146.3v1.50M616.1 144.6v1.50M616.1 142.8v1.50M616.1 141.1v1.50M616.1 139.4v1.50M616.1 136.0v1.50M616.1 134.3v1.50M616.1 130.9v1.50M616.1 129.2v1.50M616.1 127.5v1.50M616.1 120.6v1.50M616.1 112.1v1.50M616.1 110.4v1.50M616.1 108.6v1.50M616.1 106.9v1.50M616.1 105.2v1.50M616.1 103.5v1.50M616.1 101.8v1.50M616.1 96.7v1.50M620.3 218.1v1.50M620.3 202.7v1.50M620.3 189.0v1.50M620.3 182.2v1.50M620.3 178.8v1.50M620.3 177.1v1.50M620.3 175.3v1.50M620.3 170.2v1.50M620.3 168.5v1.50M620.3 165.1v1.50M620.3 163.4v1.50M620.3 161.7v1.50M620.3 158.2v1.50M620.3 156.5v1.50M620.3 151.4v1.50M620.3 148.0v1.50M620.3 142.8v1.50M620.3 141.1v1.50M620.3 139.4v1.50M620.3 137.7v1.50M620.3 134.3v1.50M620.3 132.6v1.50M620.3 130.9v1.50M620.3 129.2v1.50M620.3 127.5v1.50M620.3 124.0v1.50M620.3 122.3v1.50M620.3 115.5v1.50M620.3 112.1v1.50M620.3 108.6v1.50M620.3 106.9v1.50M620.3 103.5v1.50M622.5 283.1v1.50M622.5 195.9v1.50M622.5 183.9v1.50M622.5 182.2v1.50M622.5 180.5v1.50M622.5 178.8v1.50M622.5 177.1v1.50M622.5 175.3v1.50M622.5 171.9v1.50M622.5 170.2v1.50M622.5 166.8v1.50M622.5 163.4v1.50M622.5 159.9v1.50M622.5 158.2v1.50M622.5 156.5v1.50M622.5 154.8v1.50M622.5 149.7v1.50M622.5 141.1v1.50M622.5 139.4v1.50M622.5 134.3v1.50M622.5 132.6v1.50M622.5 125.7v1.50M622.5 124.0v1.50M622.5 122.3v1.50M622.5 120.6v1.50M622.5 115.5v1.50M622.5 112.1v1.50M626.7 236.9v1.50M626.7 190.7v1.50M626.7 182.2v1.50M626.7 180.5v1.50M626.7 173.6v1.50M626.7 170.2v1.50M626.7 168.5v1.50M626.7 166.8v1.50M626.7 165.1v1.50M626.7 158.2v1.50M626.7 156.5v1.50M626.7 154.8v1.50M626.7 149.7v1.50M626.7 148.0v1.50M626.7 142.8v1.50M626.7 141.1v1.50M626.7 139.4v1.50M626.7 137.7v1.50M626.7 129.2v1.50M626.7 125.7v1.50M626.7 124.0v1.50M626.7 120.6v1.50M626.7 118.9v1.50M626.7 117.2v1.50M626.7 113.8v1.50M626.7 112.1v1.50M626.7 110.4v1.50M626.7 106.9v1.50M626.7 100.1v1.50M626.7 96.7v1.50M626.7 95.0v1.50M628.8 201.0v1.50M628.8 190.7v1.50M628.8 185.6v1.50M628.8 182.2v1.50M628.8 180.5v1.50M628.8 178.8v1.50M628.8 177.1v1.50M628.8 175.3v1.50M628.8 173.6v1.50M628.8 171.9v1.50M628.8 166.8v1.50M628.8 165.1v1.50M628.8 163.4v1.50M628.8 161.7v1.50M628.8 159.9v1.50M628.8 153.1v1.50M628.8 151.4v1.50M628.8 149.7v1.50M628.8 148.0v1.50M628.8 144.6v1.50M628.8 137.7v1.50M628.8 130.9v1.50M628.8 129.2v1.50M628.8 125.7v1.50M628.8 124.0v1.50M628.8 115.5v1.50M628.8 113.8v1.50M628.8 112.1v1.50M628.8 108.6v1.50M628.8 106.9v1.50M628.8 105.2v1.50M628.8 103.5v1.50M628.8 96.7v1.50M633.0 301.9v1.50M633.0 216.4v1.50M633.0 189.0v1.50M633.0 183.9v1.50M633.0 180.5v1.50M633.0 177.1v1.50M633.0 175.3v1.50M633.0 173.6v1.50M633.0 171.9v1.50M633.0 170.2v1.50M633.0 168.5v1.50M633.0 166.8v1.50M633.0 165.1v1.50M633.0 163.4v1.50M633.0 161.7v1.50M633.0 159.9v1.50M633.0 156.5v1.50M633.0 154.8v1.50M633.0 153.1v1.50M633.0 151.4v1.50M633.0 149.7v1.50M633.0 144.6v1.50M633.0 142.8v1.50M633.0 141.1v1.50M633.0 139.4v1.50M633.0 137.7v1.50M633.0 136.0v1.50M633.0 134.3v1.50M633.0 132.6v1.50M633.0 129.2v1.50M633.0 127.5v1.50M633.0 125.7v1.50M633.0 122.3v1.50M633.0 120.6v1.50M633.0 118.9v1.50M633.0 117.2v1.50M633.0 113.8v1.50M633.0 112.1v1.50M633.0 110.4v1.50M633.0 108.6v1.50M633.0 106.9v1.50M633.0 103.5v1.50M633.0 101.8v1.50M635.1 199.3v1.50M635.1 197.6v1.50M635.1 189.0v1.50M635.1 185.6v1.50M635.1 180.5v1.50M635.1 173.6v1.50M635.1 171.9v1.50M635.1 170.2v1.50M635.1 166.8v1.50M635.1 165.1v1.50M635.1 163.4v1.50M635.1 161.7v1.50M635.1 158.2v1.50M635.1 156.5v1.50M635.1 151.4v1.50M635.1 149.7v1.50M635.1 144.6v1.50M635.1 142.8v1.50M635.1 139.4v1.50M635.1 134.3v1.50M635.1 129.2v1.50M635.1 125.7v1.50M635.1 124.0v1.50M635.1 122.3v1.50M635.1 113.8v1.50M635.1 112.1v1.50M635.1 106.9v1.50M635.1 105.2v1.50M635.1 103.5v1.50M635.1 98.4v1.50M635.1 93.2v1.50M639.3 202.7v1.50M639.3 187.3v1.50M639.3 183.9v1.50M639.3 182.2v1.50M639.3 180.5v1.50M639.3 173.6v1.50M639.3 171.9v1.50M639.3 168.5v1.50M639.3 166.8v1.50M639.3 165.1v1.50M639.3 163.4v1.50M639.3 161.7v1.50M639.3 159.9v1.50M639.3 158.2v1.50M639.3 156.5v1.50M639.3 154.8v1.50M639.3 151.4v1.50M639.3 149.7v1.50M639.3 139.4v1.50M639.3 137.7v1.50M639.3 136.0v1.50M639.3 130.9v1.50M639.3 129.2v1.50M639.3 127.5v1.50M639.3 125.7v1.50M639.3 124.0v1.50M639.3 120.6v1.50M639.3 118.9v1.50M639.3 113.8v1.50M639.3 108.6v1.50M639.3 105.2v1.50M639.3 103.5v1.50M639.3 100.1v1.50M639.3 98.4v1.50M641.4 218.1v1.50M641.4 207.8v1.50M641.4 195.9v1.50M641.4 190.7v1.50M641.4 187.3v1.50M641.4 180.5v1.50M641.4 177.1v1.50M641.4 171.9v1.50M641.4 170.2v1.50M641.4 168.5v1.50M641.4 166.8v1.50M641.4 165.1v1.50M641.4 163.4v1.50M641.4 161.7v1.50M641.4 159.9v1.50M641.4 156.5v1.50M641.4 149.7v1.50M641.4 142.8v1.50M641.4 141.1v1.50M641.4 137.7v1.50M641.4 136.0v1.50M641.4 134.3v1.50M641.4 127.5v1.50M641.4 124.0v1.50M641.4 122.3v1.50M641.4 117.2v1.50M641.4 115.5v1.50M641.4 113.8v1.50M641.4 112.1v1.50M641.4 110.4v1.50M641.4 106.9v1.50M641.4 105.2v1.50M641.4 100.1v1.50M645.7 245.5v1.50M645.7 201.0v1.50M645.7 199.3v1.50M645.7 192.4v1.50M645.7 187.3v1.50M645.7 185.6v1.50M645.7 177.1v1.50M645.7 175.3v1.50M645.7 173.6v1.50M645.7 171.9v1.50M645.7 170.2v1.50M645.7 168.5v1.50M645.7 165.1v1.50M645.7 163.4v1.50M645.7 161.7v1.50M645.7 159.9v1.50M645.7 158.2v1.50M645.7 156.5v1.50M645.7 154.8v1.50M645.7 149.7v1.50M645.7 148.0v1.50M645.7 146.3v1.50M645.7 142.8v1.50M645.7 141.1v1.50M645.7 139.4v1.50M645.7 137.7v1.50M645.7 136.0v1.50M645.7 134.3v1.50M645.7 132.6v1.50M645.7 129.2v1.50M645.7 127.5v1.50M645.7 125.7v1.50M645.7 124.0v1.50M645.7 120.6v1.50M645.7 118.9v1.50M645.7 117.2v1.50M645.7 115.5v1.50M645.7 110.4v1.50M645.7 105.2v1.50M645.7 103.5v1.50M645.7 101.8v1.50M647.8 192.4v1.50M647.8 183.9v1.50M647.8 182.2v1.50M647.8 177.1v1.50M647.8 171.9v1.50M647.8 170.2v1.50M647.8 168.5v1.50M647.8 165.1v1.50M647.8 163.4v1.50M647.8 161.7v1.50M647.8 159.9v1.50M647.8 156.5v1.50M647.8 153.1v1.50M647.8 149.7v1.50M647.8 148.0v1.50M647.8 146.3v1.50M647.8 144.6v1.50M647.8 142.8v1.50M647.8 139.4v1.50M647.8 137.7v1.50M647.8 136.0v1.50M647.8 132.6v1.50M647.8 130.9v1.50M647.8 129.2v1.50M647.8 125.7v1.50M647.8 124.0v1.50M647.8 118.9v1.50M647.8 117.2v1.50M647.8 115.5v1.50M647.8 113.8v1.50M647.8 112.1v1.50M647.8 110.4v1.50M647.8 108.6v1.50M647.8 106.9v1.50M647.8 103.5v1.50M647.8 101.8v1.50M647.8 100.1v1.50M649.9 254.0v1.50M649.9 194.2v1.50M649.9 189.0v1.50M649.9 183.9v1.50M649.9 175.3v1.50M649.9 173.6v1.50M649.9 171.9v1.50M649.9 168.5v1.50M649.9 165.1v1.50M649.9 163.4v1.50M649.9 161.7v1.50M649.9 159.9v1.50M649.9 156.5v1.50M649.9 153.1v1.50M649.9 151.4v1.50M649.9 149.7v1.50M649.9 148.0v1.50M649.9 142.8v1.50M649.9 141.1v1.50M649.9 139.4v1.50M649.9 137.7v1.50M649.9 136.0v1.50M649.9 134.3v1.50M649.9 132.6v1.50M649.9 130.9v1.50M649.9 125.7v1.50M649.9 124.0v1.50M649.9 122.3v1.50M649.9 120.6v1.50M649.9 118.9v1.50M649.9 115.5v1.50M649.9 113.8v1.50M649.9 112.1v1.50M649.9 110.4v1.50M649.9 108.6v1.50M649.9 106.9v1.50M649.9 103.5v1.50M654.1 202.7v1.50M654.1 190.7v1.50M654.1 185.6v1.50M654.1 177.1v1.50M654.1 175.3v1.50M654.1 173.6v1.50M654.1 171.9v1.50M654.1 170.2v1.50M654.1 168.5v1.50M654.1 166.8v1.50M654.1 163.4v1.50M654.1 161.7v1.50M654.1 159.9v1.50M654.1 156.5v1.50M654.1 154.8v1.50M654.1 153.1v1.50M654.1 151.4v1.50M654.1 149.7v1.50M654.1 148.0v1.50M654.1 142.8v1.50M654.1 139.4v1.50M654.1 134.3v1.50M654.1 132.6v1.50M654.1 130.9v1.50M654.1 129.2v1.50M654.1 127.5v1.50M654.1 125.7v1.50M654.1 124.0v1.50M654.1 120.6v1.50M654.1 118.9v1.50M654.1 117.2v1.50M654.1 115.5v1.50M654.1 113.8v1.50M654.1 110.4v1.50M654.1 106.9v1.50M654.1 105.2v1.50M654.1 103.5v1.50M654.1 101.8v1.50M656.2 298.5v1.50M656.2 192.4v1.50M656.2 190.7v1.50M656.2 187.3v1.50M656.2 185.6v1.50M656.2 182.2v1.50M656.2 180.5v1.50M656.2 175.3v1.50M656.2 173.6v1.50M656.2 171.9v1.50M656.2 170.2v1.50M656.2 168.5v1.50M656.2 166.8v1.50M656.2 165.1v1.50M656.2 163.4v1.50M656.2 161.7v1.50M656.2 159.9v1.50M656.2 158.2v1.50M656.2 153.1v1.50M656.2 151.4v1.50M656.2 148.0v1.50M656.2 146.3v1.50M656.2 144.6v1.50M656.2 142.8v1.50M656.2 141.1v1.50M656.2 139.4v1.50M656.2 137.7v1.50M656.2 136.0v1.50M656.2 132.6v1.50M656.2 130.9v1.50M656.2 129.2v1.50M656.2 127.5v1.50M656.2 124.0v1.50M656.2 120.6v1.50M656.2 118.9v1.50M656.2 110.4v1.50M656.2 108.6v1.50M656.2 106.9v1.50M656.2 105.2v1.50M656.2 101.8v1.50M656.2 100.1v1.50M656.2 98.4v1.50M656.2 96.7v1.50M658.3 194.2v1.50M658.3 185.6v1.50M658.3 180.5v1.50M658.3 177.1v1.50M658.3 171.9v1.50M658.3 170.2v1.50M658.3 166.8v1.50M658.3 163.4v1.50M658.3 161.7v1.50M658.3 159.9v1.50M658.3 154.8v1.50M658.3 151.4v1.50M658.3 149.7v1.50M658.3 148.0v1.50M658.3 142.8v1.50M658.3 139.4v1.50M658.3 137.7v1.50M658.3 136.0v1.50M658.3 132.6v1.50M658.3 130.9v1.50M658.3 129.2v1.50M658.3 127.5v1.50M658.3 125.7v1.50M658.3 124.0v1.50M658.3 122.3v1.50M658.3 117.2v1.50M658.3 113.8v1.50M658.3 112.1v1.50M658.3 108.6v1.50M658.3 106.9v1.50M658.3 105.2v1.50M658.3 103.5v1.50M658.3 100.1v1.50M662.5 214.7v1.50M662.5 213.0v1.50M662.5 209.5v1.50M662.5 189.0v1.50M662.5 187.3v1.50M662.5 185.6v1.50M662.5 180.5v1.50M662.5 177.1v1.50M662.5 175.3v1.50M662.5 173.6v1.50M662.5 171.9v1.50M662.5 170.2v1.50M662.5 168.5v1.50M662.5 166.8v1.50M662.5 165.1v1.50M662.5 163.4v1.50M662.5 159.9v1.50M662.5 158.2v1.50M662.5 156.5v1.50M662.5 154.8v1.50M662.5 153.1v1.50M662.5 151.4v1.50M662.5 144.6v1.50M662.5 141.1v1.50M662.5 139.4v1.50M662.5 136.0v1.50M662.5 134.3v1.50M662.5 132.6v1.50M662.5 130.9v1.50M662.5 129.2v1.50M662.5 127.5v1.50M662.5 125.7v1.50M662.5 124.0v1.50M662.5 122.3v1.50M662.5 120.6v1.50M662.5 118.9v1.50M662.5 117.2v1.50M662.5 113.8v1.50M662.5 112.1v1.50M662.5 110.4v1.50M662.5 106.9v1.50M662.5 105.2v1.50M662.5 101.8v1.50M662.5 100.1v1.50M662.5 91.5v1.50M664.6 209.5v1.50M664.6 195.9v1.50M664.6 182.2v1.50M664.6 178.8v1.50M664.6 177.1v1.50M664.6 173.6v1.50M664.6 171.9v1.50M664.6 170.2v1.50M664.6 168.5v1.50M664.6 163.4v1.50M664.6 161.7v1.50M664.6 159.9v1.50M664.6 158.2v1.50M664.6 156.5v1.50M664.6 154.8v1.50M664.6 151.4v1.50M664.6 148.0v1.50M664.6 146.3v1.50M664.6 144.6v1.50M664.6 141.1v1.50M664.6 139.4v1.50M664.6 136.0v1.50M664.6 134.3v1.50M664.6 132.6v1.50M664.6 129.2v1.50M664.6 125.7v1.50M664.6 124.0v1.50M664.6 122.3v1.50M664.6 120.6v1.50M664.6 118.9v1.50M664.6 117.2v1.50M664.6 115.5v1.50M664.6 113.8v1.50M664.6 112.1v1.50M664.6 110.4v1.50M664.6 108.6v1.50M664.6 106.9v1.50M664.6 105.2v1.50M666.7 204.4v1.50M666.7 201.0v1.50M666.7 197.6v1.50M666.7 195.9v1.50M666.7 192.4v1.50M666.7 190.7v1.50M666.7 182.2v1.50M666.7 178.8v1.50M666.7 177.1v1.50M666.7 175.3v1.50M666.7 171.9v1.50M666.7 168.5v1.50M666.7 166.8v1.50M666.7 165.1v1.50M666.7 163.4v1.50M666.7 161.7v1.50M666.7 159.9v1.50M666.7 158.2v1.50M666.7 156.5v1.50M666.7 154.8v1.50M666.7 153.1v1.50M666.7 148.0v1.50M666.7 146.3v1.50M666.7 144.6v1.50M666.7 142.8v1.50M666.7 141.1v1.50M666.7 139.4v1.50M666.7 136.0v1.50M666.7 134.3v1.50M666.7 132.6v1.50M666.7 130.9v1.50M666.7 129.2v1.50M666.7 127.5v1.50M666.7 125.7v1.50M666.7 124.0v1.50M666.7 120.6v1.50M666.7 118.9v1.50M666.7 115.5v1.50M666.7 112.1v1.50M666.7 108.6v1.50M666.7 106.9v1.50M666.7 105.2v1.50M666.7 103.5v1.50M666.7 101.8v1.50M666.7 100.1v1.50M666.7 98.4v1.50M666.7 96.7v1.50M668.8 235.2v1.50M668.8 221.5v1.50M668.8 209.5v1.50M668.8 204.4v1.50M668.8 195.9v1.50M668.8 194.2v1.50M668.8 192.4v1.50M668.8 187.3v1.50M668.8 185.6v1.50M668.8 183.9v1.50M668.8 180.5v1.50M668.8 178.8v1.50M668.8 177.1v1.50M668.8 175.3v1.50M668.8 173.6v1.50M668.8 170.2v1.50M668.8 166.8v1.50M668.8 165.1v1.50M668.8 163.4v1.50M668.8 161.7v1.50M668.8 159.9v1.50M668.8 158.2v1.50M668.8 149.7v1.50M668.8 148.0v1.50M668.8 146.3v1.50M668.8 144.6v1.50M668.8 142.8v1.50M668.8 139.4v1.50M668.8 137.7v1.50M668.8 136.0v1.50M668.8 134.3v1.50M668.8 132.6v1.50M668.8 130.9v1.50M668.8 129.2v1.50M668.8 127.5v1.50M668.8 125.7v1.50M668.8 124.0v1.50M668.8 122.3v1.50M668.8 117.2v1.50M668.8 115.5v1.50M668.8 113.8v1.50M668.8 112.1v1.50M668.8 110.4v1.50M668.8 108.6v1.50M668.8 105.2v1.50M668.8 103.5v1.50M668.8 101.8v1.50M668.8 100.1v1.50M668.8 98.4v1.50M671.0 319.0v1.50M671.0 214.7v1.50M671.0 201.0v1.50M671.0 189.0v1.50M671.0 187.3v1.50M671.0 180.5v1.50M671.0 178.8v1.50M671.0 177.1v1.50M671.0 175.3v1.50M671.0 173.6v1.50M671.0 171.9v1.50M671.0 170.2v1.50M671.0 168.5v1.50M671.0 166.8v1.50M671.0 165.1v1.50M671.0 163.4v1.50M671.0 156.5v1.50M671.0 154.8v1.50M671.0 153.1v1.50M671.0 151.4v1.50M671.0 149.7v1.50M671.0 148.0v1.50M671.0 146.3v1.50M671.0 144.6v1.50M671.0 142.8v1.50M671.0 141.1v1.50M671.0 139.4v1.50M671.0 137.7v1.50M671.0 136.0v1.50M671.0 132.6v1.50M671.0 130.9v1.50M671.0 129.2v1.50M671.0 127.5v1.50M671.0 125.7v1.50M671.0 124.0v1.50M671.0 122.3v1.50M671.0 120.6v1.50M671.0 118.9v1.50M671.0 117.2v1.50M671.0 113.8v1.50M671.0 112.1v1.50M671.0 110.4v1.50M671.0 108.6v1.50M671.0 106.9v1.50M671.0 105.2v1.50M671.0 100.1v1.50M671.0 98.4v1.50M671.0 95.0v1.50M673.1 243.8v1.50M673.1 202.7v1.50M673.1 199.3v1.50M673.1 197.6v1.50M673.1 194.2v1.50M673.1 189.0v1.50M673.1 187.3v1.50M673.1 185.6v1.50M673.1 180.5v1.50M673.1 178.8v1.50M673.1 177.1v1.50M673.1 175.3v1.50M673.1 173.6v1.50M673.1 171.9v1.50M673.1 170.2v1.50M673.1 168.5v1.50M673.1 166.8v1.50M673.1 165.1v1.50M673.1 163.4v1.50M673.1 161.7v1.50M673.1 159.9v1.50M673.1 158.2v1.50M673.1 156.5v1.50M673.1 154.8v1.50M673.1 153.1v1.50M673.1 149.7v1.50M673.1 146.3v1.50M673.1 144.6v1.50M673.1 142.8v1.50M673.1 141.1v1.50M673.1 139.4v1.50M673.1 137.7v1.50M673.1 134.3v1.50M673.1 132.6v1.50M673.1 130.9v1.50M673.1 129.2v1.50M673.1 127.5v1.50M673.1 125.7v1.50M673.1 124.0v1.50M673.1 120.6v1.50M673.1 118.9v1.50M673.1 117.2v1.50M673.1 115.5v1.50M673.1 113.8v1.50M673.1 110.4v1.50M673.1 108.6v1.50M673.1 106.9v1.50M673.1 105.2v1.50M673.1 103.5v1.50M673.1 101.8v1.50M673.1 100.1v1.50M675.2 248.9v1.50M675.2 230.1v1.50M675.2 218.1v1.50M675.2 211.3v1.50M675.2 185.6v1.50M675.2 180.5v1.50M675.2 177.1v1.50M675.2 175.3v1.50M675.2 173.6v1.50M675.2 171.9v1.50M675.2 170.2v1.50M675.2 168.5v1.50M675.2 166.8v1.50M675.2 165.1v1.50M675.2 163.4v1.50M675.2 161.7v1.50M675.2 159.9v1.50M675.2 158.2v1.50M675.2 156.5v1.50M675.2 154.8v1.50M675.2 153.1v1.50M675.2 151.4v1.50M675.2 149.7v1.50M675.2 148.0v1.50M675.2 144.6v1.50M675.2 142.8v1.50M675.2 141.1v1.50M675.2 137.7v1.50M675.2 136.0v1.50M675.2 134.3v1.50M675.2 130.9v1.50M675.2 129.2v1.50M675.2 127.5v1.50M675.2 122.3v1.50M675.2 120.6v1.50M675.2 118.9v1.50M675.2 117.2v1.50M675.2 115.5v1.50M675.2 113.8v1.50M675.2 112.1v1.50M675.2 110.4v1.50M675.2 108.6v1.50M675.2 106.9v1.50M675.2 105.2v1.50M675.2 101.8v1.50M675.2 100.1v1.50M675.2 98.4v1.50M675.2 96.7v1.50M679.4 194.2v1.50M679.4 189.0v1.50M679.4 187.3v1.50M679.4 185.6v1.50M679.4 183.9v1.50M679.4 182.2v1.50M679.4 180.5v1.50M679.4 178.8v1.50M679.4 177.1v1.50M679.4 175.3v1.50M679.4 173.6v1.50M679.4 171.9v1.50M679.4 170.2v1.50M679.4 168.5v1.50M679.4 166.8v1.50M679.4 165.1v1.50M679.4 163.4v1.50M679.4 161.7v1.50M679.4 159.9v1.50M679.4 158.2v1.50M679.4 156.5v1.50M679.4 154.8v1.50M679.4 153.1v1.50M679.4 151.4v1.50M679.4 149.7v1.50M679.4 148.0v1.50M679.4 146.3v1.50M679.4 144.6v1.50M679.4 142.8v1.50M679.4 141.1v1.50M679.4 139.4v1.50M679.4 137.7v1.50M679.4 136.0v1.50M679.4 132.6v1.50M679.4 130.9v1.50M679.4 129.2v1.50M679.4 125.7v1.50M679.4 124.0v1.50M679.4 122.3v1.50M679.4 120.6v1.50M679.4 118.9v1.50M679.4 117.2v1.50M679.4 115.5v1.50M679.4 113.8v1.50M679.4 112.1v1.50M679.4 110.4v1.50M679.4 108.6v1.50M679.4 106.9v1.50M679.4 105.2v1.50M679.4 100.1v1.50M681.5 242.0v1.50M681.5 223.2v1.50M681.5 221.5v1.50M681.5 204.4v1.50M681.5 202.7v1.50M681.5 201.0v1.50M681.5 190.7v1.50M681.5 187.3v1.50M681.5 183.9v1.50M681.5 182.2v1.50M681.5 180.5v1.50M681.5 178.8v1.50M681.5 177.1v1.50M681.5 175.3v1.50M681.5 173.6v1.50M681.5 170.2v1.50M681.5 168.5v1.50M681.5 166.8v1.50M681.5 165.1v1.50M681.5 163.4v1.50M681.5 159.9v1.50M681.5 158.2v1.50M681.5 156.5v1.50M681.5 154.8v1.50M681.5 153.1v1.50M681.5 151.4v1.50M681.5 149.7v1.50M681.5 148.0v1.50M681.5 146.3v1.50M681.5 144.6v1.50M681.5 142.8v1.50M681.5 141.1v1.50M681.5 139.4v1.50M681.5 136.0v1.50M681.5 132.6v1.50M681.5 130.9v1.50M681.5 125.7v1.50M681.5 124.0v1.50M681.5 122.3v1.50M681.5 120.6v1.50M681.5 118.9v1.50M681.5 117.2v1.50M681.5 115.5v1.50M681.5 113.8v1.50M681.5 112.1v1.50M681.5 110.4v1.50M681.5 108.6v1.50M681.5 106.9v1.50M681.5 105.2v1.50M681.5 103.5v1.50M681.5 100.1v1.50" stroke="#a3a3a3" stroke-width="1.4" fill="none"/>
<path d="M683.6 229.9v1.75M683.6 224.8v1.75M683.6 219.7v1.75M683.6 216.3v1.75M683.6 192.3v1.75M683.6 190.6v1.75M683.6 185.5v1.75M683.6 183.8v1.75M683.6 182.1v1.75M683.6 180.3v1.75M683.6 178.6v1.75M683.6 176.9v1.75M683.6 175.2v1.75M683.6 173.5v1.75M683.6 171.8v1.75M683.6 170.1v1.75M683.6 168.4v1.75M683.6 166.7v1.75M683.6 165.0v1.75M683.6 163.2v1.75M683.6 161.5v1.75M683.6 159.8v1.75M683.6 158.1v1.75M683.6 156.4v1.75M683.6 154.7v1.75M683.6 153.0v1.75M683.6 151.3v1.75M683.6 149.6v1.75M683.6 147.9v1.75M683.6 146.1v1.75M683.6 144.4v1.75M683.6 142.7v1.75M683.6 141.0v1.75M683.6 139.3v1.75M683.6 137.6v1.75M683.6 135.9v1.75M683.6 134.2v1.75M683.6 132.5v1.75M683.6 130.7v1.75M683.6 129.0v1.75M683.6 125.6v1.75M683.6 123.9v1.75M683.6 122.2v1.75M683.6 120.5v1.75M683.6 118.8v1.75M683.6 117.1v1.75M683.6 115.4v1.75M683.6 113.6v1.75M683.6 111.9v1.75M683.6 110.2v1.75M683.6 106.8v1.75M683.6 105.1v1.75M683.6 103.4v1.75M683.6 101.7v1.75M683.6 100.0v1.75M683.6 94.8v1.75M685.7 248.8v1.75M685.7 211.1v1.75M685.7 204.3v1.75M685.7 195.7v1.75M685.7 187.2v1.75M685.7 185.5v1.75M685.7 180.3v1.75M685.7 178.6v1.75M685.7 176.9v1.75M685.7 175.2v1.75M685.7 171.8v1.75M685.7 170.1v1.75M685.7 168.4v1.75M685.7 166.7v1.75M685.7 165.0v1.75M685.7 163.2v1.75M685.7 161.5v1.75M685.7 159.8v1.75M685.7 158.1v1.75M685.7 156.4v1.75M685.7 154.7v1.75M685.7 153.0v1.75M685.7 151.3v1.75M685.7 149.6v1.75M685.7 147.9v1.75M685.7 146.1v1.75M685.7 144.4v1.75M685.7 142.7v1.75M685.7 139.3v1.75M685.7 137.6v1.75M685.7 135.9v1.75M685.7 134.2v1.75M685.7 132.5v1.75M685.7 129.0v1.75M685.7 127.3v1.75M685.7 125.6v1.75M685.7 123.9v1.75M685.7 122.2v1.75M685.7 120.5v1.75M685.7 118.8v1.75M685.7 117.1v1.75M685.7 115.4v1.75M685.7 113.6v1.75M685.7 111.9v1.75M685.7 110.2v1.75M685.7 108.5v1.75M685.7 106.8v1.75M685.7 105.1v1.75M685.7 103.4v1.75M685.7 101.7v1.75M685.7 100.0v1.75M685.7 96.5v1.75M685.7 94.8v1.75M687.8 211.1v1.75M687.8 199.2v1.75M687.8 187.2v1.75M687.8 183.8v1.75M687.8 182.1v1.75M687.8 180.3v1.75M687.8 178.6v1.75M687.8 176.9v1.75M687.8 175.2v1.75M687.8 171.8v1.75M687.8 170.1v1.75M687.8 168.4v1.75M687.8 166.7v1.75M687.8 165.0v1.75M687.8 163.2v1.75M687.8 161.5v1.75M687.8 159.8v1.75M687.8 158.1v1.75M687.8 156.4v1.75M687.8 154.7v1.75M687.8 153.0v1.75M687.8 151.3v1.75M687.8 149.6v1.75M687.8 147.9v1.75M687.8 146.1v1.75M687.8 144.4v1.75M687.8 142.7v1.75M687.8 141.0v1.75M687.8 139.3v1.75M687.8 137.6v1.75M687.8 135.9v1.75M687.8 134.2v1.75M687.8 132.5v1.75M687.8 130.7v1.75M687.8 129.0v1.75M687.8 127.3v1.75M687.8 125.6v1.75M687.8 123.9v1.75M687.8 122.2v1.75M687.8 120.5v1.75M687.8 117.1v1.75M687.8 115.4v1.75M687.8 113.6v1.75M687.8 111.9v1.75M687.8 108.5v1.75M687.8 106.8v1.75M687.8 105.1v1.75M687.8 103.4v1.75M687.8 101.7v1.75M687.8 98.3v1.75M687.8 96.5v1.75M687.8 94.8v1.75M689.9 312.0v1.75M689.9 226.5v1.75M689.9 197.5v1.75M689.9 185.5v1.75M689.9 183.8v1.75M689.9 180.3v1.75M689.9 175.2v1.75M689.9 173.5v1.75M689.9 171.8v1.75M689.9 170.1v1.75M689.9 166.7v1.75M689.9 165.0v1.75M689.9 163.2v1.75M689.9 161.5v1.75M689.9 159.8v1.75M689.9 158.1v1.75M689.9 156.4v1.75M689.9 154.7v1.75M689.9 153.0v1.75M689.9 151.3v1.75M689.9 149.6v1.75M689.9 147.9v1.75M689.9 146.1v1.75M689.9 144.4v1.75M689.9 142.7v1.75M689.9 141.0v1.75M689.9 139.3v1.75M689.9 137.6v1.75M689.9 135.9v1.75M689.9 130.7v1.75M689.9 129.0v1.75M689.9 125.6v1.75M689.9 123.9v1.75M689.9 122.2v1.75M689.9 120.5v1.75M689.9 118.8v1.75M689.9 117.1v1.75M689.9 115.4v1.75M689.9 113.6v1.75M689.9 111.9v1.75M689.9 110.2v1.75M689.9 108.5v1.75M689.9 106.8v1.75M689.9 105.1v1.75M689.9 103.4v1.75M689.9 101.7v1.75M689.9 100.0v1.75M689.9 98.3v1.75M689.9 96.5v1.75M689.9 91.4v1.75M692.0 228.2v1.75M692.0 188.9v1.75M692.0 185.5v1.75M692.0 183.8v1.75M692.0 182.1v1.75M692.0 178.6v1.75M692.0 176.9v1.75M692.0 173.5v1.75M692.0 170.1v1.75M692.0 168.4v1.75M692.0 166.7v1.75M692.0 165.0v1.75M692.0 163.2v1.75M692.0 161.5v1.75M692.0 159.8v1.75M692.0 158.1v1.75M692.0 156.4v1.75M692.0 154.7v1.75M692.0 153.0v1.75M692.0 151.3v1.75M692.0 149.6v1.75M692.0 147.9v1.75M692.0 146.1v1.75M692.0 144.4v1.75M692.0 141.0v1.75M692.0 139.3v1.75M692.0 137.6v1.75M692.0 135.9v1.75M692.0 134.2v1.75M692.0 132.5v1.75M692.0 130.7v1.75M692.0 129.0v1.75M692.0 127.3v1.75M692.0 125.6v1.75M692.0 123.9v1.75M692.0 122.2v1.75M692.0 120.5v1.75M692.0 118.8v1.75M692.0 117.1v1.75M692.0 115.4v1.75M692.0 113.6v1.75M692.0 111.9v1.75M692.0 110.2v1.75M692.0 108.5v1.75M692.0 106.8v1.75M692.0 105.1v1.75M692.0 103.4v1.75M692.0 101.7v1.75M692.0 100.0v1.75M694.2 176.9v1.75M694.2 175.2v1.75M694.2 173.5v1.75M694.2 171.8v1.75M694.2 170.1v1.75M694.2 168.4v1.75M694.2 166.7v1.75M694.2 165.0v1.75M694.2 163.2v1.75M694.2 161.5v1.75M694.2 159.8v1.75M694.2 156.4v1.75M694.2 153.0v1.75M694.2 151.3v1.75M694.2 149.6v1.75M694.2 147.9v1.75M694.2 146.1v1.75M694.2 144.4v1.75M694.2 142.7v1.75M694.2 141.0v1.75M694.2 139.3v1.75M694.2 137.6v1.75M694.2 135.9v1.75M694.2 134.2v1.75M694.2 132.5v1.75M694.2 130.7v1.75M694.2 129.0v1.75M694.2 127.3v1.75M694.2 125.6v1.75M694.2 123.9v1.75M694.2 122.2v1.75M694.2 120.5v1.75M694.2 118.8v1.75M694.2 117.1v1.75M694.2 115.4v1.75M694.2 113.6v1.75M694.2 111.9v1.75M694.2 110.2v1.75M694.2 108.5v1.75M694.2 106.8v1.75M694.2 105.1v1.75M694.2 103.4v1.75M694.2 101.7v1.75M694.2 100.0v1.75M694.2 98.3v1.75M694.2 96.5v1.75M694.2 88.0v1.75M696.3 240.2v1.75M696.3 216.3v1.75M696.3 214.6v1.75M696.3 195.7v1.75M696.3 192.3v1.75M696.3 183.8v1.75M696.3 180.3v1.75M696.3 178.6v1.75M696.3 176.9v1.75M696.3 173.5v1.75M696.3 171.8v1.75M696.3 170.1v1.75M696.3 168.4v1.75M696.3 166.7v1.75M696.3 165.0v1.75M696.3 163.2v1.75M696.3 161.5v1.75M696.3 159.8v1.75M696.3 158.1v1.75M696.3 156.4v1.75M696.3 154.7v1.75M696.3 153.0v1.75M696.3 151.3v1.75M696.3 149.6v1.75M696.3 147.9v1.75M696.3 146.1v1.75M696.3 144.4v1.75M696.3 142.7v1.75M696.3 141.0v1.75M696.3 137.6v1.75M696.3 135.9v1.75M696.3 134.2v1.75M696.3 132.5v1.75M696.3 130.7v1.75M696.3 129.0v1.75M696.3 127.3v1.75M696.3 125.6v1.75M696.3 123.9v1.75M696.3 122.2v1.75M696.3 120.5v1.75M696.3 118.8v1.75M696.3 117.1v1.75M696.3 115.4v1.75M696.3 113.6v1.75M696.3 111.9v1.75M696.3 110.2v1.75M696.3 108.5v1.75M696.3 106.8v1.75M696.3 105.1v1.75M696.3 103.4v1.75M696.3 101.7v1.75M696.3 100.0v1.75M696.3 98.3v1.75M696.3 96.5v1.75M698.4 231.7v1.75M698.4 221.4v1.75M698.4 219.7v1.75M698.4 185.5v1.75M698.4 178.6v1.75M698.4 176.9v1.75M698.4 175.2v1.75M698.4 173.5v1.75M698.4 171.8v1.75M698.4 170.1v1.75M698.4 168.4v1.75M698.4 166.7v1.75M698.4 165.0v1.75M698.4 163.2v1.75M698.4 161.5v1.75M698.4 159.8v1.75M698.4 158.1v1.75M698.4 156.4v1.75M698.4 154.7v1.75M698.4 153.0v1.75M698.4 151.3v1.75M698.4 149.6v1.75M698.4 147.9v1.75M698.4 146.1v1.75M698.4 144.4v1.75M698.4 142.7v1.75M698.4 139.3v1.75M698.4 137.6v1.75M698.4 135.9v1.75M698.4 134.2v1.75M698.4 132.5v1.75M698.4 129.0v1.75M698.4 127.3v1.75M698.4 125.6v1.75M698.4 123.9v1.75M698.4 122.2v1.75M698.4 120.5v1.75M698.4 118.8v1.75M698.4 117.1v1.75M698.4 113.6v1.75M698.4 111.9v1.75M698.4 110.2v1.75M698.4 108.5v1.75M698.4 106.8v1.75M698.4 105.1v1.75M698.4 103.4v1.75M698.4 101.7v1.75M698.4 100.0v1.75M698.4 91.4v1.75M700.5 187.2v1.75M700.5 183.8v1.75M700.5 182.1v1.75M700.5 175.2v1.75M700.5 173.5v1.75M700.5 171.8v1.75M700.5 170.1v1.75M700.5 168.4v1.75M700.5 166.7v1.75M700.5 165.0v1.75M700.5 163.2v1.75M700.5 161.5v1.75M700.5 159.8v1.75M700.5 158.1v1.75M700.5 156.4v1.75M700.5 154.7v1.75M700.5 153.0v1.75M700.5 151.3v1.75M700.5 149.6v1.75M700.5 147.9v1.75M700.5 146.1v1.75M700.5 142.7v1.75M700.5 141.0v1.75M700.5 139.3v1.75M700.5 137.6v1.75M700.5 135.9v1.75M700.5 134.2v1.75M700.5 132.5v1.75M700.5 130.7v1.75M700.5 129.0v1.75M700.5 127.3v1.75M700.5 125.6v1.75M700.5 123.9v1.75M700.5 122.2v1.75M700.5 120.5v1.75M700.5 118.8v1.75M700.5 117.1v1.75M700.5 115.4v1.75M700.5 113.6v1.75M700.5 111.9v1.75M700.5 110.2v1.75M700.5 108.5v1.75M700.5 106.8v1.75M700.5 105.1v1.75M700.5 103.4v1.75M700.5 101.7v1.75M700.5 100.0v1.75M700.5 98.3v1.75M700.5 93.1v1.75M700.5 91.4v1.75M702.6 272.7v1.75M702.6 197.5v1.75M702.6 183.8v1.75M702.6 178.6v1.75M702.6 176.9v1.75M702.6 175.2v1.75M702.6 173.5v1.75M702.6 171.8v1.75M702.6 170.1v1.75M702.6 168.4v1.75M702.6 166.7v1.75M702.6 165.0v1.75M702.6 163.2v1.75M702.6 161.5v1.75M702.6 159.8v1.75M702.6 158.1v1.75M702.6 156.4v1.75M702.6 154.7v1.75M702.6 153.0v1.75M702.6 151.3v1.75M702.6 149.6v1.75M702.6 146.1v1.75M702.6 144.4v1.75M702.6 142.7v1.75M702.6 141.0v1.75M702.6 137.6v1.75M702.6 135.9v1.75M702.6 134.2v1.75M702.6 132.5v1.75M702.6 130.7v1.75M702.6 129.0v1.75M702.6 127.3v1.75M702.6 125.6v1.75M702.6 123.9v1.75M702.6 122.2v1.75M702.6 120.5v1.75M702.6 118.8v1.75M702.6 117.1v1.75M702.6 115.4v1.75M702.6 113.6v1.75M702.6 111.9v1.75M702.6 110.2v1.75M702.6 108.5v1.75M702.6 106.8v1.75M702.6 105.1v1.75M702.6 103.4v1.75M702.6 101.7v1.75M702.6 100.0v1.75M702.6 98.3v1.75M702.6 96.5v1.75M702.6 94.8v1.75M704.7 255.6v1.75M704.7 207.7v1.75M704.7 183.8v1.75M704.7 178.6v1.75M704.7 176.9v1.75M704.7 175.2v1.75M704.7 173.5v1.75M704.7 170.1v1.75M704.7 168.4v1.75M704.7 166.7v1.75M704.7 165.0v1.75M704.7 163.2v1.75M704.7 161.5v1.75M704.7 159.8v1.75M704.7 158.1v1.75M704.7 156.4v1.75M704.7 154.7v1.75M704.7 153.0v1.75M704.7 151.3v1.75M704.7 149.6v1.75M704.7 147.9v1.75M704.7 146.1v1.75M704.7 144.4v1.75M704.7 142.7v1.75M704.7 141.0v1.75M704.7 139.3v1.75M704.7 137.6v1.75M704.7 135.9v1.75M704.7 134.2v1.75M704.7 132.5v1.75M704.7 130.7v1.75M704.7 129.0v1.75M704.7 127.3v1.75M704.7 125.6v1.75M704.7 123.9v1.75M704.7 122.2v1.75M704.7 120.5v1.75M704.7 118.8v1.75M704.7 117.1v1.75M704.7 115.4v1.75M704.7 113.6v1.75M704.7 111.9v1.75M704.7 110.2v1.75M704.7 108.5v1.75M704.7 106.8v1.75M704.7 105.1v1.75M704.7 103.4v1.75M704.7 101.7v1.75M704.7 100.0v1.75M704.7 98.3v1.75M704.7 94.8v1.75M706.8 224.8v1.75M706.8 202.6v1.75M706.8 188.9v1.75M706.8 182.1v1.75M706.8 180.3v1.75M706.8 178.6v1.75M706.8 175.2v1.75M706.8 173.5v1.75M706.8 171.8v1.75M706.8 170.1v1.75M706.8 168.4v1.75M706.8 166.7v1.75M706.8 165.0v1.75M706.8 163.2v1.75M706.8 161.5v1.75M706.8 159.8v1.75M706.8 158.1v1.75M706.8 156.4v1.75M706.8 154.7v1.75M706.8 151.3v1.75M706.8 149.6v1.75M706.8 147.9v1.75M706.8 146.1v1.75M706.8 144.4v1.75M706.8 142.7v1.75M706.8 141.0v1.75M706.8 139.3v1.75M706.8 137.6v1.75M706.8 135.9v1.75M706.8 134.2v1.75M706.8 132.5v1.75M706.8 130.7v1.75M706.8 129.0v1.75M706.8 127.3v1.75M706.8 125.6v1.75M706.8 123.9v1.75M706.8 122.2v1.75M706.8 120.5v1.75M706.8 118.8v1.75M706.8 117.1v1.75M706.8 115.4v1.75M706.8 113.6v1.75M706.8 111.9v1.75M706.8 110.2v1.75M706.8 108.5v1.75M706.8 106.8v1.75M706.8 105.1v1.75M706.8 103.4v1.75M706.8 101.7v1.75M706.8 100.0v1.75M706.8 98.3v1.75M706.8 96.5v1.75M708.9 204.3v1.75M708.9 197.5v1.75M708.9 194.0v1.75M708.9 192.3v1.75M708.9 183.8v1.75M708.9 180.3v1.75M708.9 176.9v1.75M708.9 175.2v1.75M708.9 173.5v1.75M708.9 171.8v1.75M708.9 170.1v1.75M708.9 168.4v1.75M708.9 166.7v1.75M708.9 165.0v1.75M708.9 163.2v1.75M708.9 161.5v1.75M708.9 158.1v1.75M708.9 156.4v1.75M708.9 154.7v1.75M708.9 153.0v1.75M708.9 151.3v1.75M708.9 149.6v1.75M708.9 147.9v1.75M708.9 146.1v1.75M708.9 144.4v1.75M708.9 142.7v1.75M708.9 141.0v1.75M708.9 139.3v1.75M708.9 137.6v1.75M708.9 135.9v1.75M708.9 134.2v1.75M708.9 132.5v1.75M708.9 130.7v1.75M708.9 129.0v1.75M708.9 127.3v1.75M708.9 125.6v1.75M708.9 123.9v1.75M708.9 122.2v1.75M708.9 120.5v1.75M708.9 118.8v1.75M708.9 117.1v1.75M708.9 115.4v1.75M708.9 113.6v1.75M708.9 111.9v1.75M708.9 110.2v1.75M708.9 108.5v1.75M708.9 105.1v1.75M708.9 103.4v1.75M708.9 101.7v1.75M708.9 100.0v1.75M708.9 98.3v1.75M708.9 94.8v1.75M711.0 223.1v1.75M711.0 199.2v1.75M711.0 197.5v1.75M711.0 178.6v1.75M711.0 176.9v1.75M711.0 175.2v1.75M711.0 171.8v1.75M711.0 170.1v1.75M711.0 168.4v1.75M711.0 166.7v1.75M711.0 165.0v1.75M711.0 163.2v1.75M711.0 161.5v1.75M711.0 159.8v1.75M711.0 158.1v1.75M711.0 156.4v1.75M711.0 154.7v1.75M711.0 153.0v1.75M711.0 151.3v1.75M711.0 149.6v1.75M711.0 147.9v1.75M711.0 146.1v1.75M711.0 144.4v1.75M711.0 142.7v1.75M711.0 141.0v1.75M711.0 139.3v1.75M711.0 137.6v1.75M711.0 135.9v1.75M711.0 134.2v1.75M711.0 132.5v1.75M711.0 130.7v1.75M711.0 129.0v1.75M711.0 127.3v1.75M711.0 125.6v1.75M711.0 123.9v1.75M711.0 122.2v1.75M711.0 120.5v1.75M711.0 118.8v1.75M711.0 117.1v1.75M711.0 115.4v1.75M711.0 113.6v1.75M711.0 111.9v1.75M711.0 110.2v1.75M711.0 108.5v1.75M711.0 106.8v1.75M711.0 105.1v1.75M711.0 103.4v1.75M711.0 101.7v1.75M711.0 100.0v1.75M711.0 98.3v1.75M711.0 94.8v1.75M711.0 93.1v1.75M711.0 91.4v1.75M713.1 257.3v1.75M713.1 192.3v1.75M713.1 187.2v1.75M713.1 176.9v1.75M713.1 175.2v1.75M713.1 173.5v1.75M713.1 171.8v1.75M713.1 170.1v1.75M713.1 168.4v1.75M713.1 166.7v1.75M713.1 165.0v1.75M713.1 163.2v1.75M713.1 161.5v1.75M713.1 159.8v1.75M713.1 158.1v1.75M713.1 156.4v1.75M713.1 154.7v1.75M713.1 153.0v1.75M713.1 151.3v1.75M713.1 149.6v1.75M713.1 146.1v1.75M713.1 144.4v1.75M713.1 142.7v1.75M713.1 141.0v1.75M713.1 139.3v1.75M713.1 137.6v1.75M713.1 135.9v1.75M713.1 134.2v1.75M713.1 132.5v1.75M713.1 130.7v1.75M713.1 129.0v1.75M713.1 127.3v1.75M713.1 125.6v1.75M713.1 123.9v1.75M713.1 122.2v1.75M713.1 120.5v1.75M713.1 118.8v1.75M713.1 115.4v1.75M713.1 113.6v1.75M713.1 111.9v1.75M713.1 110.2v1.75M713.1 108.5v1.75M713.1 106.8v1.75M713.1 105.1v1.75M713.1 103.4v1.75M713.1 101.7v1.75M713.1 100.0v1.75M713.1 98.3v1.75M713.1 96.5v1.75M713.1 93.1v1.75M715.2 324.0v1.75M715.2 223.1v1.75M715.2 212.8v1.75M715.2 197.5v1.75M715.2 194.0v1.75M715.2 192.3v1.75M715.2 190.6v1.75M715.2 180.3v1.75M715.2 178.6v1.75M715.2 175.2v1.75M715.2 173.5v1.75M715.2 171.8v1.75M715.2 170.1v1.75M715.2 168.4v1.75M715.2 166.7v1.75M715.2 165.0v1.75M715.2 163.2v1.75M715.2 161.5v1.75M715.2 159.8v1.75M715.2 158.1v1.75M715.2 154.7v1.75M715.2 153.0v1.75M715.2 151.3v1.75M715.2 149.6v1.75M715.2 147.9v1.75M715.2 146.1v1.75M715.2 144.4v1.75M715.2 142.7v1.75M715.2 141.0v1.75M715.2 139.3v1.75M715.2 137.6v1.75M715.2 135.9v1.75M715.2 134.2v1.75M715.2 132.5v1.75M715.2 130.7v1.75M715.2 129.0v1.75M715.2 127.3v1.75M715.2 125.6v1.75M715.2 123.9v1.75M715.2 122.2v1.75M715.2 120.5v1.75M715.2 118.8v1.75M715.2 117.1v1.75M715.2 115.4v1.75M715.2 113.6v1.75M715.2 111.9v1.75M715.2 110.2v1.75M715.2 108.5v1.75M715.2 106.8v1.75M715.2 105.1v1.75M715.2 103.4v1.75M715.2 101.7v1.75M715.2 100.0v1.75M715.2 98.3v1.75M715.2 96.5v1.75M715.2 93.1v1.75M717.4 264.2v1.75M717.4 223.1v1.75M717.4 190.6v1.75M717.4 183.8v1.75M717.4 180.3v1.75M717.4 178.6v1.75M717.4 176.9v1.75M717.4 173.5v1.75M717.4 171.8v1.75M717.4 170.1v1.75M717.4 168.4v1.75M717.4 166.7v1.75M717.4 165.0v1.75M717.4 163.2v1.75M717.4 161.5v1.75M717.4 159.8v1.75M717.4 158.1v1.75M717.4 156.4v1.75M717.4 154.7v1.75M717.4 153.0v1.75M717.4 151.3v1.75M717.4 149.6v1.75M717.4 147.9v1.75M717.4 146.1v1.75M717.4 144.4v1.75M717.4 142.7v1.75M717.4 141.0v1.75M717.4 139.3v1.75M717.4 137.6v1.75M717.4 135.9v1.75M717.4 134.2v1.75M717.4 132.5v1.75M717.4 130.7v1.75M717.4 129.0v1.75M717.4 127.3v1.75M717.4 125.6v1.75M717.4 123.9v1.75M717.4 122.2v1.75M717.4 120.5v1.75M717.4 118.8v1.75M717.4 117.1v1.75M717.4 115.4v1.75M717.4 113.6v1.75M717.4 111.9v1.75M717.4 110.2v1.75M717.4 108.5v1.75M717.4 106.8v1.75M717.4 105.1v1.75M717.4 103.4v1.75M717.4 101.7v1.75M717.4 100.0v1.75M717.4 98.3v1.75M717.4 96.5v1.75M717.4 93.1v1.75M717.4 91.4v1.75M717.4 89.7v1.75M719.5 262.4v1.75M719.5 228.2v1.75M719.5 207.7v1.75M719.5 199.2v1.75M719.5 185.5v1.75M719.5 180.3v1.75M719.5 178.6v1.75M719.5 176.9v1.75M719.5 175.2v1.75M719.5 173.5v1.75M719.5 171.8v1.75M719.5 170.1v1.75M719.5 168.4v1.75M719.5 166.7v1.75M719.5 165.0v1.75M719.5 163.2v1.75M719.5 161.5v1.75M719.5 159.8v1.75M719.5 158.1v1.75M719.5 156.4v1.75M719.5 154.7v1.75M719.5 153.0v1.75M719.5 151.3v1.75M719.5 149.6v1.75M719.5 147.9v1.75M719.5 146.1v1.75M719.5 144.4v1.75M719.5 141.0v1.75M719.5 139.3v1.75M719.5 137.6v1.75M719.5 135.9v1.75M719.5 134.2v1.75M719.5 132.5v1.75M719.5 130.7v1.75M719.5 129.0v1.75M719.5 127.3v1.75M719.5 125.6v1.75M719.5 123.9v1.75M719.5 122.2v1.75M719.5 120.5v1.75M719.5 118.8v1.75M719.5 117.1v1.75M719.5 115.4v1.75M719.5 111.9v1.75M719.5 110.2v1.75M719.5 108.5v1.75M719.5 106.8v1.75M719.5 105.1v1.75M719.5 103.4v1.75M719.5 101.7v1.75M719.5 100.0v1.75M719.5 98.3v1.75M719.5 96.5v1.75M719.5 94.8v1.75M719.5 93.1v1.75M719.5 91.4v1.75M719.5 89.7v1.75M719.5 72.6v1.75M721.6 248.8v1.75M721.6 236.8v1.75M721.6 214.6v1.75M721.6 195.7v1.75M721.6 190.6v1.75M721.6 185.5v1.75M721.6 182.1v1.75M721.6 180.3v1.75M721.6 171.8v1.75M721.6 170.1v1.75M721.6 168.4v1.75M721.6 166.7v1.75M721.6 165.0v1.75M721.6 163.2v1.75M721.6 161.5v1.75M721.6 159.8v1.75M721.6 158.1v1.75M721.6 156.4v1.75M721.6 154.7v1.75M721.6 149.6v1.75M721.6 146.1v1.75M721.6 144.4v1.75M721.6 142.7v1.75M721.6 141.0v1.75M721.6 139.3v1.75M721.6 137.6v1.75M721.6 135.9v1.75M721.6 134.2v1.75M721.6 132.5v1.75M721.6 130.7v1.75M721.6 129.0v1.75M721.6 127.3v1.75M721.6 125.6v1.75M721.6 123.9v1.75M721.6 122.2v1.75M721.6 120.5v1.75M721.6 118.8v1.75M721.6 117.1v1.75M721.6 115.4v1.75M721.6 113.6v1.75M721.6 111.9v1.75M721.6 110.2v1.75M721.6 108.5v1.75M721.6 106.8v1.75M721.6 105.1v1.75M721.6 103.4v1.75M721.6 101.7v1.75M721.6 100.0v1.75M721.6 98.3v1.75M721.6 94.8v1.75M723.7 228.2v1.75M723.7 224.8v1.75M723.7 200.9v1.75M723.7 187.2v1.75M723.7 180.3v1.75M723.7 178.6v1.75M723.7 176.9v1.75M723.7 173.5v1.75M723.7 171.8v1.75M723.7 170.1v1.75M723.7 168.4v1.75M723.7 166.7v1.75M723.7 165.0v1.75M723.7 163.2v1.75M723.7 161.5v1.75M723.7 159.8v1.75M723.7 158.1v1.75M723.7 156.4v1.75M723.7 154.7v1.75M723.7 153.0v1.75M723.7 151.3v1.75M723.7 149.6v1.75M723.7 147.9v1.75M723.7 146.1v1.75M723.7 144.4v1.75M723.7 142.7v1.75M723.7 141.0v1.75M723.7 137.6v1.75M723.7 135.9v1.75M723.7 134.2v1.75M723.7 132.5v1.75M723.7 129.0v1.75M723.7 127.3v1.75M723.7 125.6v1.75M723.7 123.9v1.75M723.7 122.2v1.75M723.7 120.5v1.75M723.7 118.8v1.75M723.7 117.1v1.75M723.7 115.4v1.75M723.7 113.6v1.75M723.7 111.9v1.75M723.7 110.2v1.75M723.7 108.5v1.75M723.7 106.8v1.75M723.7 105.1v1.75M723.7 103.4v1.75M723.7 101.7v1.75M723.7 100.0v1.75M723.7 98.3v1.75M723.7 96.5v1.75M723.7 94.8v1.75M723.7 86.3v1.75M725.8 214.6v1.75M725.8 199.2v1.75M725.8 192.3v1.75M725.8 188.9v1.75M725.8 182.1v1.75M725.8 178.6v1.75M725.8 173.5v1.75M725.8 171.8v1.75M725.8 170.1v1.75M725.8 168.4v1.75M725.8 166.7v1.75M725.8 165.0v1.75M725.8 163.2v1.75M725.8 161.5v1.75M725.8 159.8v1.75M725.8 156.4v1.75M725.8 154.7v1.75M725.8 153.0v1.75M725.8 151.3v1.75M725.8 149.6v1.75M725.8 147.9v1.75M725.8 146.1v1.75M725.8 144.4v1.75M725.8 142.7v1.75M725.8 141.0v1.75M725.8 139.3v1.75M725.8 137.6v1.75M725.8 135.9v1.75M725.8 134.2v1.75M725.8 132.5v1.75M725.8 130.7v1.75M725.8 129.0v1.75M725.8 127.3v1.75M725.8 125.6v1.75M725.8 123.9v1.75M725.8 120.5v1.75M725.8 118.8v1.75M725.8 117.1v1.75M725.8 115.4v1.75M725.8 113.6v1.75M725.8 111.9v1.75M725.8 110.2v1.75M725.8 108.5v1.75M725.8 106.8v1.75M725.8 105.1v1.75M725.8 103.4v1.75M725.8 101.7v1.75M725.8 100.0v1.75M725.8 98.3v1.75M725.8 96.5v1.75M725.8 94.8v1.75M725.8 93.1v1.75M725.8 88.0v1.75M727.9 195.7v1.75M727.9 192.3v1.75M727.9 187.2v1.75M727.9 185.5v1.75M727.9 183.8v1.75M727.9 182.1v1.75M727.9 180.3v1.75M727.9 176.9v1.75M727.9 175.2v1.75M727.9 173.5v1.75M727.9 170.1v1.75M727.9 168.4v1.75M727.9 166.7v1.75M727.9 165.0v1.75M727.9 163.2v1.75M727.9 161.5v1.75M727.9 159.8v1.75M727.9 158.1v1.75M727.9 156.4v1.75M727.9 154.7v1.75M727.9 153.0v1.75M727.9 151.3v1.75M727.9 149.6v1.75M727.9 147.9v1.75M727.9 146.1v1.75M727.9 144.4v1.75M727.9 142.7v1.75M727.9 141.0v1.75M727.9 139.3v1.75M727.9 137.6v1.75M727.9 135.9v1.75M727.9 134.2v1.75M727.9 132.5v1.75M727.9 130.7v1.75M727.9 129.0v1.75M727.9 127.3v1.75M727.9 125.6v1.75M727.9 123.9v1.75M727.9 122.2v1.75M727.9 120.5v1.75M727.9 118.8v1.75M727.9 117.1v1.75M727.9 115.4v1.75M727.9 113.6v1.75M727.9 111.9v1.75M727.9 110.2v1.75M727.9 106.8v1.75M727.9 105.1v1.75M727.9 103.4v1.75M727.9 101.7v1.75M727.9 100.0v1.75M727.9 98.3v1.75M727.9 96.5v1.75M727.9 94.8v1.75M727.9 93.1v1.75M727.9 91.4v1.75M727.9 89.7v1.75M727.9 86.3v1.75M730.0 209.4v1.75M730.0 194.0v1.75M730.0 188.9v1.75M730.0 187.2v1.75M730.0 183.8v1.75M730.0 175.2v1.75M730.0 173.5v1.75M730.0 171.8v1.75M730.0 170.1v1.75M730.0 168.4v1.75M730.0 166.7v1.75M730.0 165.0v1.75M730.0 163.2v1.75M730.0 161.5v1.75M730.0 159.8v1.75M730.0 158.1v1.75M730.0 154.7v1.75M730.0 153.0v1.75M730.0 151.3v1.75M730.0 149.6v1.75M730.0 147.9v1.75M730.0 146.1v1.75M730.0 144.4v1.75M730.0 142.7v1.75M730.0 141.0v1.75M730.0 139.3v1.75M730.0 137.6v1.75M730.0 135.9v1.75M730.0 134.2v1.75M730.0 132.5v1.75M730.0 130.7v1.75M730.0 129.0v1.75M730.0 127.3v1.75M730.0 125.6v1.75M730.0 123.9v1.75M730.0 122.2v1.75M730.0 120.5v1.75M730.0 118.8v1.75M730.0 117.1v1.75M730.0 115.4v1.75M730.0 113.6v1.75M730.0 111.9v1.75M730.0 110.2v1.75M730.0 108.5v1.75M730.0 106.8v1.75M730.0 105.1v1.75M730.0 103.4v1.75M730.0 101.7v1.75M730.0 100.0v1.75M730.0 98.3v1.75M730.0 96.5v1.75M730.0 91.4v1.75M730.0 88.0v1.75M730.0 86.3v1.75M732.1 293.2v1.75M732.1 192.3v1.75M732.1 188.9v1.75M732.1 183.8v1.75M732.1 178.6v1.75M732.1 173.5v1.75M732.1 171.8v1.75M732.1 170.1v1.75M732.1 168.4v1.75M732.1 166.7v1.75M732.1 165.0v1.75M732.1 163.2v1.75M732.1 161.5v1.75M732.1 159.8v1.75M732.1 158.1v1.75M732.1 156.4v1.75M732.1 154.7v1.75M732.1 153.0v1.75M732.1 151.3v1.75M732.1 147.9v1.75M732.1 146.1v1.75M732.1 144.4v1.75M732.1 142.7v1.75M732.1 141.0v1.75M732.1 139.3v1.75M732.1 137.6v1.75M732.1 135.9v1.75M732.1 134.2v1.75M732.1 132.5v1.75M732.1 130.7v1.75M732.1 129.0v1.75M732.1 127.3v1.75M732.1 125.6v1.75M732.1 123.9v1.75M732.1 122.2v1.75M732.1 120.5v1.75M732.1 117.1v1.75M732.1 115.4v1.75M732.1 113.6v1.75M732.1 111.9v1.75M732.1 110.2v1.75M732.1 108.5v1.75M732.1 106.8v1.75M732.1 105.1v1.75M732.1 103.4v1.75M732.1 101.7v1.75M732.1 100.0v1.75M732.1 98.3v1.75M732.1 94.8v1.75M732.1 89.7v1.75M732.1 86.3v1.75M734.2 211.1v1.75M734.2 188.9v1.75M734.2 185.5v1.75M734.2 182.1v1.75M734.2 180.3v1.75M734.2 176.9v1.75M734.2 175.2v1.75M734.2 170.1v1.75M734.2 168.4v1.75M734.2 166.7v1.75M734.2 165.0v1.75M734.2 163.2v1.75M734.2 161.5v1.75M734.2 159.8v1.75M734.2 158.1v1.75M734.2 156.4v1.75M734.2 154.7v1.75M734.2 151.3v1.75M734.2 149.6v1.75M734.2 147.9v1.75M734.2 146.1v1.75M734.2 144.4v1.75M734.2 142.7v1.75M734.2 141.0v1.75M734.2 139.3v1.75M734.2 137.6v1.75M734.2 135.9v1.75M734.2 134.2v1.75M734.2 132.5v1.75M734.2 130.7v1.75M734.2 127.3v1.75M734.2 123.9v1.75M734.2 122.2v1.75M734.2 120.5v1.75M734.2 118.8v1.75M734.2 117.1v1.75M734.2 115.4v1.75M734.2 113.6v1.75M734.2 110.2v1.75M734.2 108.5v1.75M734.2 106.8v1.75M734.2 105.1v1.75M734.2 103.4v1.75M734.2 101.7v1.75M734.2 100.0v1.75M734.2 98.3v1.75M734.2 96.5v1.75M734.2 94.8v1.75M734.2 91.4v1.75M736.3 320.6v1.75M736.3 272.7v1.75M736.3 231.7v1.75M736.3 221.4v1.75M736.3 197.5v1.75M736.3 194.0v1.75M736.3 185.5v1.75M736.3 182.1v1.75M736.3 180.3v1.75M736.3 178.6v1.75M736.3 176.9v1.75M736.3 175.2v1.75M736.3 173.5v1.75M736.3 171.8v1.75M736.3 170.1v1.75M736.3 168.4v1.75M736.3 166.7v1.75M736.3 165.0v1.75M736.3 163.2v1.75M736.3 161.5v1.75M736.3 158.1v1.75M736.3 156.4v1.75M736.3 154.7v1.75M736.3 147.9v1.75M736.3 146.1v1.75M736.3 144.4v1.75M736.3 142.7v1.75M736.3 141.0v1.75M736.3 139.3v1.75M736.3 137.6v1.75M736.3 135.9v1.75M736.3 134.2v1.75M736.3 132.5v1.75M736.3 130.7v1.75M736.3 129.0v1.75M736.3 127.3v1.75M736.3 125.6v1.75M736.3 123.9v1.75M736.3 122.2v1.75M736.3 120.5v1.75M736.3 118.8v1.75M736.3 115.4v1.75M736.3 113.6v1.75M736.3 111.9v1.75M736.3 110.2v1.75M736.3 108.5v1.75M736.3 106.8v1.75M736.3 105.1v1.75M736.3 103.4v1.75M736.3 101.7v1.75M736.3 100.0v1.75M736.3 98.3v1.75M736.3 96.5v1.75M736.3 94.8v1.75M736.3 89.7v1.75M736.3 86.3v1.75M736.3 84.6v1.75M736.3 82.9v1.75M736.3 77.7v1.75M738.4 226.5v1.75M738.4 218.0v1.75M738.4 202.6v1.75M738.4 185.5v1.75M738.4 183.8v1.75M738.4 180.3v1.75M738.4 178.6v1.75M738.4 176.9v1.75M738.4 170.1v1.75M738.4 168.4v1.75M738.4 166.7v1.75M738.4 165.0v1.75M738.4 163.2v1.75M738.4 161.5v1.75M738.4 159.8v1.75M738.4 158.1v1.75M738.4 156.4v1.75M738.4 154.7v1.75M738.4 153.0v1.75M738.4 151.3v1.75M738.4 149.6v1.75M738.4 147.9v1.75M738.4 146.1v1.75M738.4 144.4v1.75M738.4 142.7v1.75M738.4 141.0v1.75M738.4 139.3v1.75M738.4 137.6v1.75M738.4 135.9v1.75M738.4 134.2v1.75M738.4 132.5v1.75M738.4 130.7v1.75M738.4 129.0v1.75M738.4 127.3v1.75M738.4 125.6v1.75M738.4 123.9v1.75M738.4 120.5v1.75M738.4 118.8v1.75M738.4 117.1v1.75M738.4 115.4v1.75M738.4 113.6v1.75M738.4 111.9v1.75M738.4 110.2v1.75M738.4 108.5v1.75M738.4 106.8v1.75M738.4 105.1v1.75M738.4 101.7v1.75M738.4 100.0v1.75M738.4 98.3v1.75M738.4 96.5v1.75M738.4 94.8v1.75M738.4 93.1v1.75M738.4 91.4v1.75M738.4 89.7v1.75M740.6 274.4v1.75M740.6 257.3v1.75M740.6 233.4v1.75M740.6 231.7v1.75M740.6 229.9v1.75M740.6 224.8v1.75M740.6 197.5v1.75M740.6 192.3v1.75M740.6 187.2v1.75M740.6 173.5v1.75M740.6 171.8v1.75M740.6 170.1v1.75M740.6 168.4v1.75M740.6 166.7v1.75M740.6 165.0v1.75M740.6 163.2v1.75M740.6 161.5v1.75M740.6 159.8v1.75M740.6 156.4v1.75M740.6 154.7v1.75M740.6 153.0v1.75M740.6 151.3v1.75M740.6 149.6v1.75M740.6 147.9v1.75M740.6 146.1v1.75M740.6 144.4v1.75M740.6 142.7v1.75M740.6 141.0v1.75M740.6 139.3v1.75M740.6 137.6v1.75M740.6 135.9v1.75M740.6 134.2v1.75M740.6 132.5v1.75M740.6 130.7v1.75M740.6 129.0v1.75M740.6 127.3v1.75M740.6 125.6v1.75M740.6 123.9v1.75M740.6 122.2v1.75M740.6 120.5v1.75M740.6 117.1v1.75M740.6 115.4v1.75M740.6 111.9v1.75M740.6 110.2v1.75M740.6 108.5v1.75M740.6 106.8v1.75M740.6 105.1v1.75M740.6 103.4v1.75M740.6 101.7v1.75M740.6 100.0v1.75M740.6 98.3v1.75M740.6 96.5v1.75M740.6 94.8v1.75M740.6 93.1v1.75M740.6 91.4v1.75M740.6 72.6v1.75M742.7 224.8v1.75M742.7 219.7v1.75M742.7 207.7v1.75M742.7 200.9v1.75M742.7 197.5v1.75M742.7 187.2v1.75M742.7 183.8v1.75M742.7 180.3v1.75M742.7 178.6v1.75M742.7 173.5v1.75M742.7 171.8v1.75M742.7 168.4v1.75M742.7 166.7v1.75M742.7 165.0v1.75M742.7 163.2v1.75M742.7 161.5v1.75M742.7 159.8v1.75M742.7 158.1v1.75M742.7 156.4v1.75M742.7 154.7v1.75M742.7 151.3v1.75M742.7 149.6v1.75M742.7 147.9v1.75M742.7 146.1v1.75M742.7 142.7v1.75M742.7 141.0v1.75M742.7 139.3v1.75M742.7 137.6v1.75M742.7 135.9v1.75M742.7 134.2v1.75M742.7 132.5v1.75M742.7 130.7v1.75M742.7 129.0v1.75M742.7 127.3v1.75M742.7 125.6v1.75M742.7 123.9v1.75M742.7 122.2v1.75M742.7 120.5v1.75M742.7 118.8v1.75M742.7 117.1v1.75M742.7 115.4v1.75M742.7 113.6v1.75M742.7 111.9v1.75M742.7 110.2v1.75M742.7 108.5v1.75M742.7 106.8v1.75M742.7 105.1v1.75M742.7 103.4v1.75M742.7 101.7v1.75M742.7 100.0v1.75M742.7 98.3v1.75M742.7 96.5v1.75M742.7 94.8v1.75M742.7 91.4v1.75M742.7 81.2v1.75M744.8 279.5v1.75M744.8 271.0v1.75M744.8 218.0v1.75M744.8 187.2v1.75M744.8 185.5v1.75M744.8 183.8v1.75M744.8 182.1v1.75M744.8 178.6v1.75M744.8 175.2v1.75M744.8 173.5v1.75M744.8 171.8v1.75M744.8 170.1v1.75M744.8 168.4v1.75M744.8 166.7v1.75M744.8 165.0v1.75M744.8 163.2v1.75M744.8 161.5v1.75M744.8 159.8v1.75M744.8 158.1v1.75M744.8 156.4v1.75M744.8 154.7v1.75M744.8 153.0v1.75M744.8 151.3v1.75M744.8 149.6v1.75M744.8 147.9v1.75M744.8 146.1v1.75M744.8 144.4v1.75M744.8 142.7v1.75M744.8 141.0v1.75M744.8 139.3v1.75M744.8 137.6v1.75M744.8 135.9v1.75M744.8 134.2v1.75M744.8 132.5v1.75M744.8 130.7v1.75M744.8 129.0v1.75M744.8 127.3v1.75M744.8 125.6v1.75M744.8 123.9v1.75M744.8 122.2v1.75M744.8 120.5v1.75M744.8 118.8v1.75M744.8 117.1v1.75M744.8 115.4v1.75M744.8 113.6v1.75M744.8 111.9v1.75M744.8 110.2v1.75M744.8 108.5v1.75M744.8 106.8v1.75M744.8 105.1v1.75M744.8 103.4v1.75M744.8 101.7v1.75M744.8 100.0v1.75M744.8 98.3v1.75M744.8 96.5v1.75M744.8 94.8v1.75M744.8 93.1v1.75M744.8 91.4v1.75M744.8 86.3v1.75M744.8 84.6v1.75M744.8 82.9v1.75M744.8 77.7v1.75M744.8 76.0v1.75M744.8 72.6v1.75M744.8 67.5v1.75M744.8 65.8v1.75M746.9 233.4v1.75M746.9 231.7v1.75M746.9 204.3v1.75M746.9 194.0v1.75M746.9 188.9v1.75M746.9 182.1v1.75M746.9 175.2v1.75M746.9 171.8v1.75M746.9 170.1v1.75M746.9 168.4v1.75M746.9 163.2v1.75M746.9 161.5v1.75M746.9 156.4v1.75M746.9 154.7v1.75M746.9 151.3v1.75M746.9 147.9v1.75M746.9 146.1v1.75M746.9 141.0v1.75M746.9 137.6v1.75M746.9 135.9v1.75M746.9 134.2v1.75M746.9 132.5v1.75M746.9 130.7v1.75M746.9 123.9v1.75M746.9 120.5v1.75M746.9 118.8v1.75M746.9 115.4v1.75M746.9 111.9v1.75M746.9 110.2v1.75M746.9 108.5v1.75M746.9 100.0v1.75M746.9 96.5v1.75M746.9 93.1v1.75M746.9 88.0v1.75M746.9 86.3v1.75M746.9 79.4v1.75M746.9 77.7v1.75M746.9 74.3v1.75M746.9 72.6v1.75M746.9 69.2v1.75M746.9 64.0v1.75M746.9 62.3v1.75M746.9 46.9v1.75M749.0 236.8v1.75M749.0 195.7v1.75M749.0 192.3v1.75M749.0 187.2v1.75M749.0 183.8v1.75M749.0 175.2v1.75M749.0 173.5v1.75M749.0 171.8v1.75M749.0 168.4v1.75M749.0 166.7v1.75M749.0 165.0v1.75M749.0 163.2v1.75M749.0 161.5v1.75M749.0 159.8v1.75M749.0 154.7v1.75M749.0 153.0v1.75M749.0 149.6v1.75M749.0 146.1v1.75M749.0 144.4v1.75M749.0 142.7v1.75M749.0 141.0v1.75M749.0 139.3v1.75M749.0 135.9v1.75M749.0 123.9v1.75M749.0 122.2v1.75M749.0 120.5v1.75M749.0 118.8v1.75M749.0 115.4v1.75M749.0 111.9v1.75M749.0 108.5v1.75M749.0 91.4v1.75M749.0 82.9v1.75M749.0 79.4v1.75M751.1 265.9v1.75M751.1 228.2v1.75M751.1 216.3v1.75M751.1 207.7v1.75M751.1 178.6v1.75M751.1 176.9v1.75M751.1 173.5v1.75M751.1 171.8v1.75M751.1 168.4v1.75M751.1 166.7v1.75M751.1 165.0v1.75M751.1 163.2v1.75M751.1 161.5v1.75M751.1 158.1v1.75M751.1 156.4v1.75M751.1 153.0v1.75M751.1 151.3v1.75M751.1 146.1v1.75M751.1 144.4v1.75M751.1 141.0v1.75M751.1 137.6v1.75M751.1 135.9v1.75M751.1 134.2v1.75M751.1 129.0v1.75M751.1 127.3v1.75M751.1 123.9v1.75M751.1 122.2v1.75M751.1 120.5v1.75M751.1 118.8v1.75M751.1 117.1v1.75M751.1 113.6v1.75M751.1 111.9v1.75M751.1 110.2v1.75M751.1 106.8v1.75M751.1 101.7v1.75M751.1 100.0v1.75M751.1 98.3v1.75M751.1 76.0v1.75M751.1 67.5v1.75M753.2 185.5v1.75M753.2 182.1v1.75M753.2 180.3v1.75M753.2 176.9v1.75M753.2 175.2v1.75M753.2 173.5v1.75M753.2 170.1v1.75M753.2 168.4v1.75M753.2 166.7v1.75M753.2 165.0v1.75M753.2 163.2v1.75M753.2 158.1v1.75M753.2 153.0v1.75M753.2 151.3v1.75M753.2 149.6v1.75M753.2 147.9v1.75M753.2 146.1v1.75M753.2 144.4v1.75M753.2 141.0v1.75M753.2 139.3v1.75M753.2 135.9v1.75M753.2 134.2v1.75M753.2 132.5v1.75M753.2 123.9v1.75M753.2 122.2v1.75M753.2 118.8v1.75M753.2 113.6v1.75M753.2 111.9v1.75M753.2 110.2v1.75M753.2 106.8v1.75M753.2 105.1v1.75M753.2 100.0v1.75M753.2 91.4v1.75M753.2 64.0v1.75M753.2 50.4v1.75M755.3 233.4v1.75M755.3 214.6v1.75M755.3 188.9v1.75M755.3 175.2v1.75M755.3 168.4v1.75M755.3 163.2v1.75M755.3 161.5v1.75M755.3 158.1v1.75M755.3 149.6v1.75M755.3 141.0v1.75M755.3 123.9v1.75M755.3 120.5v1.75M755.3 117.1v1.75M755.3 113.6v1.75M755.3 98.3v1.75M755.3 67.5v1.75M757.4 269.3v1.75M757.4 224.8v1.75M757.4 178.6v1.75M757.4 161.5v1.75M757.4 156.4v1.75M757.4 153.0v1.75M757.4 149.6v1.75M757.4 147.9v1.75M757.4 134.2v1.75M757.4 125.6v1.75M757.4 122.2v1.75M757.4 118.8v1.75M757.4 115.4v1.75M757.4 113.6v1.75M757.4 106.8v1.75M759.5 235.1v1.75M759.5 212.8v1.75M759.5 209.4v1.75M759.5 200.9v1.75M759.5 187.2v1.75M759.5 178.6v1.75M759.5 175.2v1.75M759.5 168.4v1.75M759.5 163.2v1.75M759.5 159.8v1.75M759.5 154.7v1.75M759.5 151.3v1.75M759.5 149.6v1.75M759.5 144.4v1.75M759.5 139.3v1.75M759.5 132.5v1.75M759.5 130.7v1.75M759.5 123.9v1.75M759.5 122.2v1.75M759.5 118.8v1.75M759.5 115.4v1.75M759.5 110.2v1.75M759.5 108.5v1.75M759.5 105.1v1.75M759.5 77.7v1.75M761.6 259.0v1.75M761.6 200.9v1.75M761.6 188.9v1.75M761.6 180.3v1.75M761.6 168.4v1.75M761.6 163.2v1.75M761.6 161.5v1.75M761.6 156.4v1.75M761.6 151.3v1.75M761.6 141.0v1.75M761.6 134.2v1.75M761.6 122.2v1.75M761.6 117.1v1.75M761.6 111.9v1.75M761.6 110.2v1.75M761.6 106.8v1.75M761.6 82.9v1.75M763.8 178.2v1.75M763.8 177.4v1.75M763.8 176.5v1.75M763.8 175.6v1.75M763.8 174.8v1.75M763.8 173.9v1.75M763.8 173.1v1.75M763.8 172.2v1.75M763.8 171.4v1.75M763.8 170.5v1.75M763.8 169.7v1.75M763.8 168.8v1.75M763.8 167.9v1.75M763.8 167.1v1.75M763.8 166.2v1.75M763.8 165.4v1.75M763.8 164.5v1.75M763.8 163.7v1.75M763.8 162.8v1.75M763.8 162.0v1.75M763.8 161.1v1.75M763.8 160.3v1.75M763.8 159.4v1.75M763.8 158.5v1.75M763.8 157.7v1.75M763.8 156.8v1.75M763.8 156.0v1.75M763.8 155.1v1.75M763.8 154.3v1.75M763.8 153.4v1.75M763.8 152.6v1.75M763.8 151.7v1.75M763.8 150.8v1.75M763.8 150.0v1.75M763.8 149.1v1.75M763.8 148.3v1.75M763.8 147.4v1.75M763.8 146.6v1.75M763.8 145.7v1.75M763.8 144.9v1.75M763.8 144.0v1.75M763.8 143.1v1.75M763.8 142.3v1.75M763.8 141.4v1.75M763.8 140.6v1.75M763.8 139.7v1.75M763.8 138.9v1.75M763.8 138.0v1.75M763.8 137.2v1.75M763.8 136.3v1.75M763.8 135.5v1.75M763.8 134.6v1.75M763.8 133.7v1.75M763.8 132.9v1.75M763.8 132.0v1.75M763.8 131.2v1.75M763.8 130.3v1.75M763.8 129.5v1.75M763.8 128.6v1.75M763.8 127.8v1.75M763.8 126.9v1.75M763.8 126.0v1.75M763.8 125.2v1.75M763.8 124.3v1.75M763.8 123.5v1.75M763.8 122.6v1.75M763.8 121.8v1.75M763.8 120.9v1.75M763.8 120.1v1.75M763.8 119.2v1.75M763.8 118.3v1.75M763.8 117.5v1.75M763.8 116.6v1.75M763.8 115.8v1.75M763.8 114.9v1.75M763.8 114.1v1.75M763.8 113.2v1.75M763.8 112.4v1.75M763.8 111.5v1.75M763.8 110.7v1.75M763.8 109.8v1.75M763.8 108.9v1.75M763.8 108.1v1.75M763.8 107.2v1.75M763.8 106.4v1.75M763.8 105.5v1.75M763.8 104.7v1.75M763.8 103.8v1.75M763.8 103.0v1.75M763.8 102.1v1.75M763.8 101.2v1.75M763.8 100.4v1.75M763.8 99.5v1.75M763.8 98.7v1.75M763.8 97.8v1.75M763.8 97.0v1.75M763.8 96.1v1.75M763.8 95.3v1.75M763.8 94.4v1.75M763.8 93.6v1.75M763.8 92.7v1.75M763.8 91.8v1.75M763.8 91.0v1.75" stroke="#a3a3a3" stroke-width="1.25" fill="none"/>
<path d="M492.1 369.4 L492.4 357.6 L492.7 347.5 L493.1 340.1 L493.4 333.6 L493.7 328 L494 323.2 L494.3 319.3 L494.6 316.5 L494.9 314.1 L495.3 312 L495.6 310.1 L495.9 308.4 L496.2 306.9 L496.5 305.5 L496.8 304.1 L497.1 302.6 L497.5 301.1 L497.8 299.5 L498.1 297.9 L498.4 296.2 L498.7 294.6 L499 293 L499.4 291.4 L499.7 289.9 L500 288.5 L500.3 287.1 L500.6 285.9 L500.9 284.7 L501.2 283.7 L501.6 282.7 L501.9 281.8 L502.2 281 L502.5 280.1 L502.8 279.4 L503.1 278.6 L503.4 277.9 L503.8 277.2 L504.1 276.5 L504.4 275.9 L504.7 275.2 L505 274.6 L505.3 274 L505.6 273.4 L506 272.8 L506.3 272.2 L506.6 271.5 L506.9 270.9 L507.2 270.3 L507.5 269.6 L507.8 268.9 L508.2 268.3 L508.5 267.6 L508.8 266.9 L509.1 266.3 L509.4 265.6 L509.7 264.9 L510 264.3 L510.4 263.6 L510.7 263 L511.1 262.1 L512.2 259.9 L513.2 257.9 L514.3 255.9 L515.3 254 L516.4 252.3 L517.4 250.6 L518.5 248.9 L519.6 247.2 L520.6 245.6 L521.7 244 L522.7 242.4 L523.8 240.9 L524.8 239.4 L525.9 238 L527 236.7 L528 235.5 L529.1 234.3 L530.1 233.3 L531.2 232.3 L532.2 231.5 L533.3 230.7 L534.4 229.9 L535.4 229.2 L536.5 228.5 L537.5 227.8 L538.6 227.1 L539.6 226.4 L540.7 225.6 L541.8 224.9 L542.8 224.2 L543.9 223.4 L544.9 222.7 L546 222 L547 221.3 L548.1 220.6 L549.2 219.9 L550.2 219.3 L551.3 218.6 L552.3 218 L553.4 217.4 L554.4 216.8 L555.5 216.2 L556.5 215.7 L557.6 215.3 L558.7 214.8 L559.7 214.4 L560.8 213.9 L561.8 213.5 L562.9 213.1 L563.9 212.7 L565 212.3 L566.1 211.9 L567.1 211.5 L568.2 211.2 L569.2 210.8 L570.3 210.4 L571.3 209.9 L572.4 209.4 L573.5 208.8 L574.5 208.2 L575.6 207.5 L576.6 206.8 L577.7 206.1 L578.7 205.2 L579.8 204.4 L580.9 203.4 L581.9 202.5 L583 201.6 L584 200.6 L585.1 199.6 L586.1 198.6 L587.2 197.5 L588.3 196.4 L589.3 195.2 L590.4 194.1 L591.4 193.1 L592.5 192.1 L593.5 191.2 L594.6 190.2 L595.7 189.3 L596.7 188.4 L597.8 187.5 L598.8 186.6 L599.9 185.7 L600.9 184.8 L602 183.9 L603.1 183.1 L604.1 182.2 L605.2 181.4 L606.2 180.6 L607.3 179.9 L608.3 179.2 L609.4 178.6 L610.5 178 L611.5 177.4 L612.6 176.8 L613.6 176.2 L614.7 175.7 L615.7 175.1 L616.8 174.5 L617.9 174 L618.9 173.4 L620 172.8 L621 172.3 L622.1 171.8 L623.1 171.2 L624.2 170.6 L625.3 170.1 L626.3 169.5 L627.4 168.9 L628.4 168.3 L629.5 167.7 L630.5 167.2 L631.6 166.6 L632.7 166.1 L633.7 165.5 L634.8 165 L635.8 164.4 L636.9 163.8 L637.9 163.3 L639 162.7 L640.1 162.1 L641.1 161.6 L642.2 161 L643.2 160.5 L644.3 159.9 L645.3 159.4 L646.4 158.8 L647.5 158.3 L648.5 157.8 L649.6 157.3 L650.6 156.8 L651.7 156.3 L652.7 155.8 L653.8 155.4 L654.9 154.9 L655.9 154.4 L657 154 L658 153.6 L659.1 153.1 L660.1 152.7 L661.2 152.3 L662.3 151.8 L663.3 151.4 L664.4 151 L665.4 150.5 L666.5 150.1 L667.5 149.7 L668.6 149.2 L669.7 148.8 L670.7 148.4 L671.8 148 L672.8 147.5 L673.9 147.1 L674.9 146.7 L676 146.3 L677.1 145.9 L678.1 145.6 L679.2 145.2 L680.2 144.8 L681.3 144.5 L682.3 144.1 L683.4 143.8 L684.5 143.4 L685.5 143.1 L686.6 142.8 L687.6 142.4 L688.7 142.1 L689.7 141.8 L690.8 141.5 L691.9 141.2 L692.9 140.9 L694 140.5 L695 140.2 L696.1 139.9 L697.1 139.6 L698.2 139.3 L699.3 139 L700.3 138.8 L701.4 138.5 L702.4 138.2 L703.5 137.9 L704.5 137.6 L705.6 137.3 L706.6 137 L707.7 136.8 L708.8 136.5 L709.8 136.2 L710.9 135.9 L711.9 135.7 L713 135.4 L714 135.1 L715.1 134.9 L716.2 134.6 L717.2 134.3 L718.3 134.1 L719.3 133.8 L720.4 133.5 L721.4 133.3 L722.5 133 L723.6 132.7 L724.6 132.5 L725.7 132.2 L726.7 131.9 L727.8 131.7 L728.8 131.4 L729.9 131.1 L731 130.9 L732 130.6 L733.1 130.4 L734.1 130.1 L735.2 129.8 L736.2 129.6 L737.3 129.3 L738.4 129.1 L739.4 128.8 L740.5 128.6 L741.5 128.3 L742.6 128.1 L743.6 127.9 L744.7 127.6 L745.8 127.4 L746.8 127.2 L747.9 126.9 L748.9 126.7 L750 126.5 L751 126.2 L752.1 126 L753.2 125.8 L754.2 125.6 L755.3 125.3 L756.3 125.1 L757.4 124.9 L758.4 124.7 L759.5 124.5 L760.6 124.2 L761.6 124 L762.7 123.8 L763.7 123.6 L764.8 123.4 L765.8 123.2 L766.9 123 L768 122.8 L769 122.6 L770.1 122.4 L771.1 122.2 L772.2 122 L773.2 121.8 L774.3 121.6" stroke="#00ffff" stroke-width="2.9" fill="none" stroke-linejoin="round" stroke-dasharray="20 2 1.8 2"/>
<path d="M492.1 369.2 L492.4 357.5 L492.7 347.4 L493.1 339.9 L493.4 333.4 L493.7 327.8 L494 322.9 L494.3 319.1 L494.6 316.2 L494.9 313.8 L495.3 311.7 L495.6 309.8 L495.9 308.1 L496.2 306.6 L496.5 305.1 L496.8 303.7 L497.1 302.3 L497.5 300.7 L497.8 299.1 L498.1 297.5 L498.4 295.8 L498.7 294.2 L499 292.5 L499.4 291 L499.7 289.4 L500 288 L500.3 286.6 L500.6 285.3 L500.9 284.2 L501.2 283.1 L501.6 282.2 L501.9 281.3 L502.2 280.4 L502.5 279.6 L502.8 278.8 L503.1 278 L503.4 277.3 L503.8 276.6 L504.1 275.9 L504.4 275.2 L504.7 274.6 L505 273.9 L505.3 273.3 L505.6 272.7 L506 272.1 L506.3 271.4 L506.6 270.8 L506.9 270.2 L507.2 269.5 L507.5 268.8 L507.8 268.2 L508.2 267.5 L508.5 266.8 L508.8 266.1 L509.1 265.5 L509.4 264.8 L509.7 264.1 L510 263.4 L510.4 262.8 L510.7 262.1 L511.1 261.2 L512.2 259 L513.2 256.9 L514.3 254.9 L515.3 253 L516.4 251.3 L517.4 249.7 L518.5 248.2 L519.6 246.7 L520.6 245.3 L521.7 243.9 L522.7 242.6 L523.8 241.3 L524.8 240.1 L525.9 239 L527 237.9 L528 236.8 L529.1 235.8 L530.1 234.9 L531.2 234 L532.2 233.2 L533.3 232.4 L534.4 231.7 L535.4 230.9 L536.5 230.2 L537.5 229.5 L538.6 228.8 L539.6 228.1 L540.7 227.3 L541.8 226.6 L542.8 225.9 L543.9 225.2 L544.9 224.4 L546 223.7 L547 223 L548.1 222.3 L549.2 221.6 L550.2 221 L551.3 220.3 L552.3 219.7 L553.4 219.1 L554.4 218.5 L555.5 218 L556.5 217.4 L557.6 217 L558.7 216.5 L559.7 216.1 L560.8 215.6 L561.8 215 L562.9 214.3 L563.9 213.6 L565 212.9 L566.1 212.1 L567.1 211.3 L568.2 210.4 L569.2 209.6 L570.3 208.7 L571.3 207.9 L572.4 207 L573.5 206.1 L574.5 205.2 L575.6 204.2 L576.6 203.2 L577.7 202.1 L578.7 201 L579.8 199.9 L580.9 198.6 L581.9 197.4 L583 196.1 L584 194.9 L585.1 193.6 L586.1 192.2 L587.2 190.8 L588.3 189.4 L589.3 187.9 L590.4 186.6 L591.4 185.3 L592.5 184 L593.5 182.8 L594.6 181.6 L595.7 180.5 L596.7 179.4 L597.8 178.2 L598.8 177.1 L599.9 176 L600.9 174.9 L602 173.8 L603.1 172.8 L604.1 171.8 L605.2 170.8 L606.2 169.8 L607.3 169 L608.3 168.1 L609.4 167.3 L610.5 166.5 L611.5 165.7 L612.6 165 L613.6 164.2 L614.7 163.5 L615.7 162.8 L616.8 162 L617.9 161.3 L618.9 160.7 L620 160 L621 159.4 L622.1 158.7 L623.1 158.1 L624.2 157.5 L625.3 157 L626.3 156.5 L627.4 156 L628.4 155.5 L629.5 155 L630.5 154.6 L631.6 154.2 L632.7 153.8 L633.7 153.4 L634.8 153 L635.8 152.6 L636.9 152.2 L637.9 151.8 L639 151.5 L640.1 151.1 L641.1 150.7 L642.2 150.3 L643.2 150 L644.3 149.6 L645.3 149.3 L646.4 148.9 L647.5 148.5 L648.5 148.2 L649.6 147.8 L650.6 147.5 L651.7 147.1 L652.7 146.8 L653.8 146.4 L654.9 146.1 L655.9 145.8 L657 145.4 L658 145.1 L659.1 144.8 L660.1 144.4 L661.2 144.1 L662.3 143.7 L663.3 143.4 L664.4 143 L665.4 142.6 L666.5 142.3 L667.5 141.9 L668.6 141.5 L669.7 141.1 L670.7 140.7 L671.8 140.4 L672.8 140 L673.9 139.6 L674.9 139.3 L676 138.9 L677.1 138.6 L678.1 138.2 L679.2 137.9 L680.2 137.6 L681.3 137.2 L682.3 136.9 L683.4 136.6 L684.5 136.3 L685.5 136 L686.6 135.7 L687.6 135.4 L688.7 135.1 L689.7 134.8 L690.8 134.6 L691.9 134.3 L692.9 134 L694 133.7 L695 133.5 L696.1 133.2 L697.1 132.9 L698.2 132.7 L699.3 132.4 L700.3 132.1 L701.4 131.9 L702.4 131.6 L703.5 131.4 L704.5 131.1 L705.6 130.9 L706.6 130.6 L707.7 130.4 L708.8 130.1 L709.8 129.9 L710.9 129.6 L711.9 129.4 L713 129.2 L714 128.9 L715.1 128.7 L716.2 128.5 L717.2 128.2 L718.3 128 L719.3 127.8 L720.4 127.5 L721.4 127.3 L722.5 127 L723.6 126.8 L724.6 126.6 L725.7 126.3 L726.7 126.1 L727.8 125.8 L728.8 125.6 L729.9 125.4 L731 125.1 L732 124.9 L733.1 124.7 L734.1 124.4 L735.2 124.2 L736.2 124 L737.3 123.7 L738.4 123.5 L739.4 123.3 L740.5 123.1 L741.5 122.8 L742.6 122.6 L743.6 122.4 L744.7 122.2 L745.8 122 L746.8 121.8 L747.9 121.6 L748.9 121.4 L750 121.2 L751 120.9 L752.1 120.7 L753.2 120.5 L754.2 120.3 L755.3 120.1 L756.3 119.9 L757.4 119.7 L758.4 119.5 L759.5 119.3 L760.6 119.1 L761.6 119 L762.7 118.8 L763.7 118.6 L764.8 118.4 L765.8 118.2 L766.9 118 L768 117.8 L769 117.6 L770.1 117.5 L771.1 117.3 L772.2 117.1 L773.2 116.9 L774.3 116.7" stroke="#ff00ff" stroke-width="2.9" fill="none" stroke-linejoin="round" stroke-dasharray="107.4 13.9 52.2 5.8 34.3 7.0 48.6 6.9 40.1 6.7 37.1 6.5 36.7 6.4 400"/>
<path d="M492.1 369.4 L492.4 357.7 L492.7 347.6 L493.1 340.1 L493.4 333.7 L493.7 328 L494 323.3 L494.3 319.4 L494.6 316.6 L494.9 314.2 L495.3 312.1 L495.6 310.2 L495.9 308.6 L496.2 307.1 L496.5 305.6 L496.8 304.2 L497.1 302.8 L497.5 301.3 L497.8 299.7 L498.1 298 L498.4 296.4 L498.7 294.8 L499 293.2 L499.4 291.6 L499.7 290.1 L500 288.7 L500.3 287.3 L500.6 286.1 L500.9 284.9 L501.2 283.9 L501.6 283 L501.9 282.1 L502.2 281.2 L502.5 280.4 L502.8 279.6 L503.1 278.9 L503.4 278.2 L503.8 277.5 L504.1 276.8 L504.4 276.2 L504.7 275.5 L505 274.9 L505.3 274.3 L505.6 273.7 L506 273.1 L506.3 272.5 L506.6 271.9 L506.9 271.2 L507.2 270.6 L507.5 269.9 L507.8 269.3 L508.2 268.6 L508.5 268 L508.8 267.3 L509.1 266.6 L509.4 266 L509.7 265.3 L510 264.7 L510.4 264 L510.7 263.4 L511.1 262.5 L512.2 260.4 L513.2 258.3 L514.3 256.3 L515.3 254.5 L516.4 252.8 L517.4 251.3 L518.5 249.8 L519.6 248.3 L520.6 246.9 L521.7 245.6 L522.7 244.3 L523.8 243.1 L524.8 241.9 L525.9 240.8 L527 239.8 L528 238.7 L529.1 237.8 L530.1 236.9 L531.2 236 L532.2 235.2 L533.3 234.4 L534.4 233.6 L535.4 232.9 L536.5 232.2 L537.5 231.5 L538.6 230.8 L539.6 230.1 L540.7 229.4 L541.8 228.7 L542.8 227.9 L543.9 227.2 L544.9 226.5 L546 225.8 L547 225.1 L548.1 224.4 L549.2 223.7 L550.2 223.1 L551.3 222.4 L552.3 221.8 L553.4 221.2 L554.4 220.6 L555.5 220.1 L556.5 219.6 L557.6 219.1 L558.7 218.7 L559.7 218.2 L560.8 217.8 L561.8 217.4 L562.9 217 L563.9 216.6 L565 216.1 L566.1 215.6 L567.1 215.1 L568.2 214.6 L569.2 214 L570.3 213.3 L571.3 212.6 L572.4 211.8 L573.5 210.9 L574.5 210 L575.6 209.1 L576.6 208.1 L577.7 207.1 L578.7 206 L579.8 204.9 L580.9 203.7 L581.9 202.5 L583 201.3 L584 200 L585.1 198.7 L586.1 197.4 L587.2 196 L588.3 194.6 L589.3 193.2 L590.4 191.8 L591.4 190.6 L592.5 189.3 L593.5 188.1 L594.6 186.9 L595.7 185.8 L596.7 184.7 L597.8 183.5 L598.8 182.4 L599.9 181.3 L600.9 180.2 L602 179.1 L603.1 178 L604.1 177 L605.2 175.9 L606.2 175 L607.3 174.1 L608.3 173.2 L609.4 172.3 L610.5 171.5 L611.5 170.7 L612.6 169.9 L613.6 169.1 L614.7 168.3 L615.7 167.6 L616.8 166.8 L617.9 166.1 L618.9 165.3 L620 164.6 L621 163.9 L622.1 163.3 L623.1 162.6 L624.2 162 L625.3 161.4 L626.3 160.8 L627.4 160.2 L628.4 159.6 L629.5 159.1 L630.5 158.6 L631.6 158 L632.7 157.5 L633.7 157 L634.8 156.6 L635.8 156.1 L636.9 155.6 L637.9 155.1 L639 154.6 L640.1 154.1 L641.1 153.7 L642.2 153.2 L643.2 152.7 L644.3 152.3 L645.3 151.9 L646.4 151.4 L647.5 151 L648.5 150.6 L649.6 150.2 L650.6 149.8 L651.7 149.4 L652.7 149 L653.8 148.6 L654.9 148.2 L655.9 147.8 L657 147.4 L658 147.1 L659.1 146.7 L660.1 146.3 L661.2 145.9 L662.3 145.5 L663.3 145.1 L664.4 144.7 L665.4 144.3 L666.5 144 L667.5 143.6 L668.6 143.2 L669.7 142.8 L670.7 142.4 L671.8 142 L672.8 141.6 L673.9 141.3 L674.9 140.9 L676 140.5 L677.1 140.2 L678.1 139.8 L679.2 139.5 L680.2 139.2 L681.3 138.9 L682.3 138.5 L683.4 138.2 L684.5 137.9 L685.5 137.6 L686.6 137.3 L687.6 137 L688.7 136.7 L689.7 136.5 L690.8 136.2 L691.9 135.9 L692.9 135.6 L694 135.3 L695 135.1 L696.1 134.8 L697.1 134.5 L698.2 134.3 L699.3 134 L700.3 133.7 L701.4 133.5 L702.4 133.2 L703.5 133 L704.5 132.7 L705.6 132.5 L706.6 132.2 L707.7 132 L708.8 131.8 L709.8 131.5 L710.9 131.3 L711.9 131.1 L713 130.8 L714 130.6 L715.1 130.4 L716.2 130.1 L717.2 129.9 L718.3 129.7 L719.3 129.5 L720.4 129.2 L721.4 129 L722.5 128.8 L723.6 128.5 L724.6 128.3 L725.7 128.1 L726.7 127.8 L727.8 127.6 L728.8 127.4 L729.9 127.1 L731 126.9 L732 126.7 L733.1 126.5 L734.1 126.2 L735.2 126 L736.2 125.8 L737.3 125.6 L738.4 125.4 L739.4 125.1 L740.5 124.9 L741.5 124.7 L742.6 124.5 L743.6 124.3 L744.7 124.1 L745.8 123.9 L746.8 123.7 L747.9 123.5 L748.9 123.3 L750 123.1 L751 122.9 L752.1 122.8 L753.2 122.6 L754.2 122.4 L755.3 122.2 L756.3 122 L757.4 121.8 L758.4 121.6 L759.5 121.4 L760.6 121.3 L761.6 121.1 L762.7 120.9 L763.7 120.7 L764.8 120.6 L765.8 120.4 L766.9 120.2 L768 120 L769 119.9 L770.1 119.7 L771.1 119.5 L772.2 119.4 L773.2 119.2 L774.3 119.1" stroke="#0000ff" stroke-width="2.8" fill="none" stroke-linejoin="round" stroke-dasharray="11.3 7.8"/>
<path d="M492.1 369.4 L492.4 357.7 L492.7 347.6 L493.1 340.2 L493.4 333.7 L493.7 328.1 L494 323.3 L494.3 319.5 L494.6 316.6 L494.9 314.2 L495.3 312.1 L495.6 310.3 L495.9 308.6 L496.2 307.1 L496.5 305.7 L496.8 304.3 L497.1 302.8 L497.5 301.3 L497.8 299.7 L498.1 298.1 L498.4 296.5 L498.7 294.9 L499 293.3 L499.4 291.7 L499.7 290.2 L500 288.8 L500.3 287.5 L500.6 286.2 L500.9 285.1 L501.2 284.1 L501.6 283.1 L501.9 282.2 L502.2 281.4 L502.5 280.6 L502.8 279.8 L503.1 279.1 L503.4 278.4 L503.8 277.7 L504.1 277.1 L504.4 276.4 L504.7 275.8 L505 275.2 L505.3 274.6 L505.6 274 L506 273.4 L506.3 272.8 L506.6 272.2 L506.9 271.6 L507.2 270.9 L507.5 270.3 L507.8 269.6 L508.2 269 L508.5 268.3 L508.8 267.7 L509.1 267 L509.4 266.4 L509.7 265.7 L510 265.1 L510.4 264.5 L510.7 263.8 L511.1 263 L512.2 260.9 L513.2 258.9 L514.3 257 L515.3 255.2 L516.4 253.6 L517.4 252.1 L518.5 250.7 L519.6 249.4 L520.6 248.1 L521.7 246.9 L522.7 245.7 L523.8 244.6 L524.8 243.5 L525.9 242.5 L527 241.5 L528 240.6 L529.1 239.8 L530.1 238.9 L531.2 238.2 L532.2 237.4 L533.3 236.7 L534.4 236.1 L535.4 235.4 L536.5 234.8 L537.5 234.1 L538.6 233.4 L539.6 232.8 L540.7 232.1 L541.8 231.4 L542.8 230.6 L543.9 229.9 L544.9 229.2 L546 228.5 L547 227.9 L548.1 227.2 L549.2 226.5 L550.2 225.9 L551.3 225.2 L552.3 224.6 L553.4 224 L554.4 223.5 L555.5 222.9 L556.5 222.4 L557.6 222 L558.7 221.5 L559.7 221.1 L560.8 220.7 L561.8 220.3 L562.9 219.9 L563.9 219.5 L565 219 L566.1 218.6 L567.1 218.1 L568.2 217.5 L569.2 216.9 L570.3 216.3 L571.3 215.5 L572.4 214.7 L573.5 213.9 L574.5 212.9 L575.6 212 L576.6 211 L577.7 210 L578.7 208.9 L579.8 207.8 L580.9 206.6 L581.9 205.4 L583 204.2 L584 202.9 L585.1 201.6 L586.1 200.3 L587.2 198.9 L588.3 197.4 L589.3 196 L590.4 194.7 L591.4 193.4 L592.5 192.2 L593.5 190.9 L594.6 189.8 L595.7 188.6 L596.7 187.5 L597.8 186.4 L598.8 185.2 L599.9 184.1 L600.9 183 L602 181.9 L603.1 180.8 L604.1 179.7 L605.2 178.7 L606.2 177.8 L607.3 176.8 L608.3 176 L609.4 175.1 L610.5 174.2 L611.5 173.4 L612.6 172.6 L613.6 171.7 L614.7 170.9 L615.7 170.1 L616.8 169.3 L617.9 168.5 L618.9 167.7 L620 167 L621 166.2 L622.1 165.5 L623.1 164.8 L624.2 164.1 L625.3 163.4 L626.3 162.8 L627.4 162.1 L628.4 161.5 L629.5 160.9 L630.5 160.3 L631.6 159.7 L632.7 159.2 L633.7 158.6 L634.8 158.1 L635.8 157.5 L636.9 157 L637.9 156.5 L639 155.9 L640.1 155.4 L641.1 154.9 L642.2 154.4 L643.2 153.9 L644.3 153.4 L645.3 152.9 L646.4 152.4 L647.5 151.9 L648.5 151.4 L649.6 151 L650.6 150.5 L651.7 150.1 L652.7 149.6 L653.8 149.2 L654.9 148.7 L655.9 148.3 L657 147.8 L658 147.4 L659.1 147 L660.1 146.6 L661.2 146.1 L662.3 145.7 L663.3 145.3 L664.4 144.9 L665.4 144.4 L666.5 144 L667.5 143.6 L668.6 143.2 L669.7 142.8 L670.7 142.4 L671.8 142 L672.8 141.7 L673.9 141.3 L674.9 140.9 L676 140.5 L677.1 140.2 L678.1 139.8 L679.2 139.5 L680.2 139.1 L681.3 138.8 L682.3 138.5 L683.4 138.1 L684.5 137.8 L685.5 137.5 L686.6 137.2 L687.6 136.9 L688.7 136.6 L689.7 136.3 L690.8 136 L691.9 135.7 L692.9 135.4 L694 135.1 L695 134.9 L696.1 134.6 L697.1 134.3 L698.2 134 L699.3 133.7 L700.3 133.5 L701.4 133.2 L702.4 132.9 L703.5 132.7 L704.5 132.4 L705.6 132.2 L706.6 131.9 L707.7 131.6 L708.8 131.4 L709.8 131.1 L710.9 130.9 L711.9 130.7 L713 130.4 L714 130.2 L715.1 129.9 L716.2 129.7 L717.2 129.4 L718.3 129.2 L719.3 128.9 L720.4 128.7 L721.4 128.5 L722.5 128.2 L723.6 128 L724.6 127.7 L725.7 127.5 L726.7 127.2 L727.8 127 L728.8 126.7 L729.9 126.5 L731 126.3 L732 126 L733.1 125.8 L734.1 125.5 L735.2 125.3 L736.2 125.1 L737.3 124.8 L738.4 124.6 L739.4 124.4 L740.5 124.1 L741.5 123.9 L742.6 123.7 L743.6 123.5 L744.7 123.3 L745.8 123.1 L746.8 122.8 L747.9 122.6 L748.9 122.4 L750 122.2 L751 122 L752.1 121.8 L753.2 121.6 L754.2 121.4 L755.3 121.2 L756.3 121 L757.4 120.8 L758.4 120.6 L759.5 120.4 L760.6 120.2 L761.6 120 L762.7 119.8 L763.7 119.6 L764.8 119.4 L765.8 119.2 L766.9 119 L768 118.8 L769 118.7 L770.1 118.5 L771.1 118.3 L772.2 118.1 L773.2 117.9 L774.3 117.8" stroke="#00ff00" stroke-width="2.9" fill="none" stroke-linejoin="round" stroke-dasharray="2.4 3.73"/>
<path d="M492.1 369.4 L492.4 357.6 L492.7 347.5 L493.1 340.1 L493.4 333.6 L493.7 328 L494 323.2 L494.3 319.3 L494.6 316.5 L494.9 314.1 L495.3 312 L495.6 310.1 L495.9 308.4 L496.2 306.9 L496.5 305.5 L496.8 304.1 L497.1 302.6 L497.5 301.1 L497.8 299.5 L498.1 297.9 L498.4 296.2 L498.7 294.6 L499 293 L499.4 291.4 L499.7 289.9 L500 288.5 L500.3 287.1 L500.6 285.9 L500.9 284.7 L501.2 283.7 L501.6 282.7 L501.9 281.8 L502.2 281 L502.5 280.1 L502.8 279.4 L503.1 278.6 L503.4 277.9 L503.8 277.2 L504.1 276.5 L504.4 275.9 L504.7 275.2 L505 274.6 L505.3 274 L505.6 273.4 L506 272.8 L506.3 272.2 L506.6 271.5 L506.9 270.9 L507.2 270.3 L507.5 269.6 L507.8 268.9 L508.2 268.3 L508.5 267.6 L508.8 266.9 L509.1 266.3 L509.4 265.6 L509.7 264.9 L510 264.3 L510.4 263.6 L510.7 263 L511.1 262.1 L512.2 259.9 L513.2 257.9 L514.3 255.9 L515.3 254 L516.4 252.3 L517.4 250.7 L518.5 249.2 L519.6 247.8 L520.6 246.4 L521.7 245 L522.7 243.7 L523.8 242.5 L524.8 241.3 L525.9 240.2 L527 239.1 L528 238.1 L529.1 237.1 L530.1 236.2 L531.2 235.3 L532.2 234.5 L533.3 233.7 L534.4 232.9 L535.4 232.2 L536.5 231.5 L537.5 230.8 L538.6 230.1 L539.6 229.4 L540.7 228.6 L541.8 227.9 L542.8 227.2 L543.9 226.4 L544.9 225.7 L546 225 L547 224.3 L548.1 223.6 L549.2 222.9 L550.2 222.3 L551.3 221.6 L552.3 221 L553.4 220.4 L554.4 219.8 L555.5 219.2 L556.5 218.7 L557.6 218.2 L558.7 217.8 L559.7 217.4 L560.8 216.9 L561.8 216.5 L562.9 216.1 L563.9 215.7 L565 215.2 L566.1 214.7 L567.1 214.2 L568.2 213.7 L569.2 213.1 L570.3 212.4 L571.3 211.7 L572.4 210.9 L573.5 210 L574.5 209.1 L575.6 208.2 L576.6 207.2 L577.7 206.2 L578.7 205.1 L579.8 203.9 L580.9 202.8 L581.9 201.5 L583 200.3 L584 199.1 L585.1 197.8 L586.1 196.4 L587.2 195 L588.3 193.6 L589.3 192.2 L590.4 190.8 L591.4 189.5 L592.5 188.3 L593.5 187.1 L594.6 185.9 L595.7 184.8 L596.7 183.6 L597.8 182.5 L598.8 181.4 L599.9 180.3 L600.9 179.2 L602 178 L603.1 177 L604.1 175.9 L605.2 174.9 L606.2 173.9 L607.3 173 L608.3 172.1 L609.4 171.3 L610.5 170.4 L611.5 169.6 L612.6 168.8 L613.6 168 L614.7 167.3 L615.7 166.5 L616.8 165.7 L617.9 165 L618.9 164.2 L620 163.5 L621 162.8 L622.1 162.2 L623.1 161.5 L624.2 160.9 L625.3 160.3 L626.3 159.7 L627.4 159.1 L628.4 158.5 L629.5 157.9 L630.5 157.4 L631.6 156.9 L632.7 156.4 L633.7 155.9 L634.8 155.4 L635.8 154.9 L636.9 154.4 L637.9 153.9 L639 153.4 L640.1 153 L641.1 152.5 L642.2 152 L643.2 151.6 L644.3 151.1 L645.3 150.7 L646.4 150.3 L647.5 149.8 L648.5 149.4 L649.6 149 L650.6 148.6 L651.7 148.2 L652.7 147.8 L653.8 147.4 L654.9 147 L655.9 146.6 L657 146.2 L658 145.9 L659.1 145.5 L660.1 145.1 L661.2 144.7 L662.3 144.3 L663.3 143.9 L664.4 143.5 L665.4 143.1 L666.5 142.7 L667.5 142.3 L668.6 141.9 L669.7 141.5 L670.7 141.2 L671.8 140.8 L672.8 140.4 L673.9 140 L674.9 139.6 L676 139.3 L677.1 138.9 L678.1 138.6 L679.2 138.2 L680.2 137.9 L681.3 137.6 L682.3 137.2 L683.4 136.9 L684.5 136.6 L685.5 136.3 L686.6 136 L687.6 135.7 L688.7 135.4 L689.7 135.1 L690.8 134.8 L691.9 134.5 L692.9 134.3 L694 134 L695 133.7 L696.1 133.4 L697.1 133.1 L698.2 132.9 L699.3 132.6 L700.3 132.3 L701.4 132.1 L702.4 131.8 L703.5 131.5 L704.5 131.3 L705.6 131 L706.6 130.8 L707.7 130.5 L708.8 130.3 L709.8 130 L710.9 129.8 L711.9 129.5 L713 129.3 L714 129.1 L715.1 128.8 L716.2 128.6 L717.2 128.3 L718.3 128.1 L719.3 127.9 L720.4 127.6 L721.4 127.4 L722.5 127.1 L723.6 126.9 L724.6 126.7 L725.7 126.4 L726.7 126.2 L727.8 125.9 L728.8 125.7 L729.9 125.4 L731 125.2 L732 125 L733.1 124.7 L734.1 124.5 L735.2 124.2 L736.2 124 L737.3 123.8 L738.4 123.6 L739.4 123.3 L740.5 123.1 L741.5 122.9 L742.6 122.7 L743.6 122.4 L744.7 122.2 L745.8 122 L746.8 121.8 L747.9 121.6 L748.9 121.4 L750 121.2 L751 121 L752.1 120.8 L753.2 120.6 L754.2 120.3 L755.3 120.1 L756.3 119.9 L757.4 119.7 L758.4 119.5 L759.5 119.3 L760.6 119.2 L761.6 119 L762.7 118.8 L763.7 118.6 L764.8 118.4 L765.8 118.2 L766.9 118 L768 117.8 L769 117.6 L770.1 117.5 L771.1 117.3 L772.2 117.1 L773.2 116.9 L774.3 116.7" stroke="#ff0000" stroke-width="2.9" fill="none" stroke-linejoin="round"/>
<path d="M485.3 129.9H764.8" stroke="#000" stroke-width="2" stroke-dasharray="2 4.13" stroke-dashoffset="-3.4" fill="none"/>
<path d="M684.7 44.4V343.7" stroke="#000" stroke-width="2" stroke-dasharray="2 4.13" stroke-dashoffset="-2" fill="none"/>
</g>
<path d="M510.67 343.70v-4.8 M510.67 44.40v4.8 M531.76 343.70v-4.8 M531.76 44.40v4.8 M552.86 343.70v-4.8 M552.86 44.40v4.8 M573.94 343.70v-4.8 M573.94 44.40v4.8 M616.12 343.70v-4.8 M616.12 44.40v4.8 M637.21 343.70v-4.8 M637.21 44.40v4.8 M658.30 343.70v-4.8 M658.30 44.40v4.8 M679.39 343.70v-4.8 M679.39 44.40v4.8 M721.57 343.70v-4.8 M721.57 44.40v4.8 M742.66 343.70v-4.8 M742.66 44.40v4.8 M763.75 343.70v-4.8 M763.75 44.40v4.8 M489.58 343.70v-9.5 M489.58 44.40v9.5 M595.03 343.70v-9.5 M595.03 44.40v9.5 M700.48 343.70v-9.5 M700.48 44.40v9.5 M485.30 335.15h4.8 M774.30 335.15h-4.8 M485.30 318.05h4.8 M774.30 318.05h-4.8 M485.30 283.84h4.8 M774.30 283.84h-4.8 M485.30 266.74h4.8 M774.30 266.74h-4.8 M485.30 249.63h4.8 M774.30 249.63h-4.8 M485.30 232.53h4.8 M774.30 232.53h-4.8 M485.30 198.33h4.8 M774.30 198.33h-4.8 M485.30 181.22h4.8 M774.30 181.22h-4.8 M485.30 164.12h4.8 M774.30 164.12h-4.8 M485.30 147.02h4.8 M774.30 147.02h-4.8 M485.30 112.81h4.8 M774.30 112.81h-4.8 M485.30 95.71h4.8 M774.30 95.71h-4.8 M485.30 78.61h4.8 M774.30 78.61h-4.8 M485.30 61.50h4.8 M774.30 61.50h-4.8 M485.30 300.94h9.5 M774.30 300.94h-9.5 M485.30 215.43h9.5 M774.30 215.43h-9.5 M485.30 129.91h9.5 M774.30 129.91h-9.5 M485.30 44.40h9.5 M774.30 44.40h-9.5" stroke="#000" stroke-width="1.50" fill="none"/>
<rect x="485.30" y="44.40" width="289.00" height="299.30" fill="none" stroke="#000" stroke-width="1.60"/>
<text transform="translate(489.8,361.1) scale(1.16,1)" font-family="'Liberation Sans', sans-serif" font-size="13.2px" font-weight="bold" text-anchor="middle" letter-spacing="0.35">0</text>
<text transform="translate(595.2,361.1) scale(1.16,1)" font-family="'Liberation Sans', sans-serif" font-size="13.2px" font-weight="bold" text-anchor="middle" letter-spacing="0.35">5</text>
<text transform="translate(700.7,361.1) scale(1.16,1)" font-family="'Liberation Sans', sans-serif" font-size="13.2px" font-weight="bold" text-anchor="middle" letter-spacing="0.35">10</text>
<text transform="translate(478.1,306.1) scale(1.16,1)" font-family="'Liberation Sans', sans-serif" font-size="13.2px" font-weight="bold" text-anchor="end" letter-spacing="0.35">&#8722;2</text>
<text transform="translate(478.1,220.6) scale(1.16,1)" font-family="'Liberation Sans', sans-serif" font-size="13.2px" font-weight="bold" text-anchor="end" letter-spacing="0.35">&#8722;1</text>
<text transform="translate(478.1,135.1) scale(1.16,1)" font-family="'Liberation Sans', sans-serif" font-size="13.2px" font-weight="bold" text-anchor="end" letter-spacing="0.35">0</text>
<text transform="translate(478.1,49.6) scale(1.16,1)" font-family="'Liberation Sans', sans-serif" font-size="13.2px" font-weight="bold" text-anchor="end" letter-spacing="0.35">1</text>
<text x="495.5" y="69.3" font-family="'Liberation Sans', sans-serif" font-size="18.0px" font-weight="normal" text-anchor="start" fill="#000" letter-spacing="1.50" stroke="#000" stroke-width="0.4">(b)</text>
<text x="594.1" y="318.0" font-family="'Liberation Serif', serif" font-size="14.0px" font-weight="bold" fill="#a3a3a3" textLength="80.1" lengthAdjust="spacingAndGlyphs" >Casagrande</text>
<text x="680.3" y="318.0" font-family="'Liberation Serif', serif" font-size="14.0px" font-weight="bold" fill="#a3a3a3" textLength="12.9" lengthAdjust="spacingAndGlyphs" >et</text>
<text x="701.0" y="318.0" font-family="'Liberation Serif', serif" font-size="14.0px" font-weight="bold" fill="#a3a3a3" textLength="17.0" lengthAdjust="spacingAndGlyphs" >al.</text>
<text x="725.4" y="318.0" font-family="'Liberation Serif', serif" font-size="14.0px" font-weight="bold" fill="#a3a3a3" textLength="43.8" lengthAdjust="spacingAndGlyphs" >(2011)</text>
<text x="600.6" y="386.2" font-family="'Liberation Serif', serif" font-size="14.0px" font-weight="bold" fill="#000" textLength="6.2" lengthAdjust="spacingAndGlyphs" >t</text>
<text x="621.6" y="386.2" font-family="'Liberation Serif', serif" font-size="14.0px" font-weight="bold" fill="#000" textLength="41.0" lengthAdjust="spacingAndGlyphs" >[Gyr]</text>
<g transform="translate(434.5,194.2) rotate(-90)">
<text x="-25.6" y="0.0" font-family="'Liberation Serif', serif" font-size="14.0px" font-weight="bold" text-anchor="start" fill="#000" letter-spacing="0.50"  textLength="52.0" lengthAdjust="spacingAndGlyphs">[Fe/H]</text>
</g>
<clipPath id="cc"><rect x="213.5" y="430.2" width="436.4" height="299.0"/></clipPath>
<g clip-path="url(#cc)">
<path d="M213.5 729.1 L221.9 729.1 L224 729 L226.1 729 L228.2 729 L230.3 729 L232.4 729 L234.5 728.9 L236.7 728.9 L238.8 728.9 L240.9 728.9 L243 728.8 L245.1 728.8 L247.2 728.8 L249.3 728.7 L251.4 728.7 L253.5 728.6 L255.6 728.6 L257.7 728.5 L259.8 728.5 L262 728.4 L264.1 728.3 L266.2 728.3 L268.3 728.2 L270.4 728.1 L272.5 728 L274.6 727.9 L276.7 727.8 L278.8 727.6 L280.9 727.5 L283 727.4 L285.2 727.2 L287.3 727 L289.4 726.8 L291.5 726.5 L293.6 726.3 L295.7 726 L297.8 725.7 L299.9 725.5 L302 725.2 L304.1 724.9 L306.2 724.7 L308.3 724.4 L310.5 724.2 L312.6 724 L314.7 723.7 L316.8 723.4 L318.9 723.1 L321 722.7 L323.1 722.2 L325.2 721.7 L327.3 721 L329.4 720.3 L331.5 719.5 L333.6 718.6 L335.8 717.6 L337.9 716.6 L340 715.4 L342.1 714.2 L344.2 712.9 L346.3 711.5 L348.4 710.1 L350.5 708.6 L352.6 707.2 L354.7 705.7 L356.8 704.2 L359 702.8 L361.1 701.4 L363.2 700 L365.3 698.8 L367.4 697.7 L369.5 696.7 L371.6 695.9 L373.7 695.2 L375.8 694.7 L377.9 694.4 L380 694.2 L382.1 694 L384.3 693.9 L386.4 693.7 L388.5 693.5 L390.6 693.2 L392.7 692.8 L394.8 692.3 L396.9 691.6 L399 691 L401.1 690.2 L403.2 689.4 L405.3 688.5 L407.5 687.5 L409.6 686.5 L411.7 685.5 L413.8 684.4 L415.9 683.3 L418 682.1 L420.1 680.9 L422.2 679.7 L424.3 678.3 L426.4 676.9 L428.5 675.5 L430.6 674 L432.8 672.5 L434.9 670.9 L437 669.2 L439.1 667.5 L441.2 665.8 L443.3 664 L445.4 662.1 L447.5 660.2 L449.6 658.2 L451.7 656.2 L453.8 654.1 L455.9 651.9 L458.1 649.6 L460.2 647.2 L462.3 644.8 L464.4 642.3 L466.5 639.7 L468.6 637.1 L470.7 634.4 L472.8 631.6 L474.9 628.8 L477 626 L479.1 623.1 L481.3 620.2 L483.4 617.2 L485.5 614.1 L487.6 611 L489.7 607.8 L491.8 604.5 L493.9 601.2 L496 597.8 L498.1 594.5 L500.2 591 L502.3 587.6 L504.4 584.2 L506.6 580.8 L508.7 577.4 L510.8 574.1 L512.9 570.9 L515 567.9 L517.1 565.1 L519.2 562.6 L521.3 560.4 L523.4 558.6 L525.5 557.2 L527.6 556.3 L529.8 555.9 L531.9 555.9 L534 556.5 L536.1 557.5 L538.2 559.1 L540.3 561.2 L542.4 563.8 L544.5 566.9 L546.6 570.6 L548.7 574.6 L550.8 579.2 L552.9 584.1 L555.1 589.4 L557.2 595 L559.3 600.9 L561.4 607.1 L563.5 613.6 L565.6 620.2 L567.7 626.9 L569.8 633.7 L571.9 640.6 L574 647.4 L576.1 654.1 L578.2 660.8 L580.4 667.3 L582.5 673.5 L584.6 679.6 L586.7 685.3 L588.8 690.7 L590.9 695.7 L593 700.3 L595.1 704.5 L597.2 708.3 L599.3 711.7 L601.4 714.7 L603.6 717.3 L605.7 719.6 L607.8 721.6 L609.9 723.2 L612 724.6 L614.1 725.7 L616.2 726.6 L618.3 727.2 L620.4 727.7 L622.5 728.1 L624.6 728.3 L626.7 728.4 L628.9 728.5 L631 728.5 L633.1 728.6 L635.2 728.6 L637.3 728.7 L639.4 728.9 L641.5 729.2 L649.9 729.2" stroke="#00ffff" stroke-width="2.9" fill="none" stroke-linejoin="round" stroke-dasharray="20 2 1.8 2"/>
<path d="M213.5 729.1 L221.9 729.1 L224.9 729 L227.8 729 L230.8 729 L233.8 729 L236.8 728.9 L239.7 728.9 L242.7 728.8 L245.7 728.8 L248.7 728.7 L251.6 728.7 L254.6 728.6 L257.6 728.5 L260.6 728.5 L263.5 728.4 L266.5 728.3 L269.5 728.1 L272.5 728 L275.4 727.8 L278.4 727.7 L281.4 727.4 L284.4 727.2 L287.3 727 L290.3 726.7 L293.3 726.4 L296.3 726 L299.2 725.6 L302.2 725.2 L305.2 724.8 L308.2 724.4 L311.1 724.1 L314.1 723.7 L317.1 723.3 L320.1 722.8 L323 722.2 L326 721.4 L329 720.4 L331.9 719.2 L334.9 717.9 L337.9 716.5 L340.9 714.9 L343.8 713 L346.8 710.9 L349.8 708.7 L352.8 706.6 L355.7 704.9 L358.7 703.5 L361.7 702.1 L364.7 700.9 L367.6 699.8 L370.6 699 L373.6 698.6 L376.6 698.4 L379.5 698.2 L382.5 698 L385.5 697.9 L388.5 697.8 L391.4 697.8 L394.4 697.9 L397.4 697.9 L400.4 698 L403.3 698.1 L406.3 698.1 L409.3 698.1 L412.3 698 L415.2 697.9 L418.2 697.8 L421.2 697.6 L424.2 697.4 L427.1 696.6 L430.1 695.2 L433.1 693.4 L436.1 691.4 L439 689.5 L442 687.7 L445 685.9 L448 684 L450.9 682.1 L453.9 680 L456.9 677.8 L473.7 662.2 L490.4 637.1 L507.2 602.1 L524 554.3 L540.8 510.9 L557.6 516.6 L574.4 599.1 L591.2 676.9 L607.9 715.4 L624.7 728 L641.5 729.2 L649.9 729.2" stroke="#ff00ff" stroke-width="2.9" fill="none" stroke-linejoin="round" stroke-dasharray="27.4 8.3"/>
<path d="M213.5 729.1 L221.9 729.1 L224.9 729 L227.8 729 L230.8 729 L233.8 729 L236.8 728.9 L239.7 728.9 L242.7 728.8 L245.7 728.8 L248.7 728.7 L251.6 728.7 L254.6 728.6 L257.6 728.5 L260.6 728.5 L263.5 728.4 L266.5 728.3 L269.5 728.1 L272.5 728 L275.4 727.8 L278.4 727.7 L281.4 727.4 L284.4 727.2 L287.3 727 L290.3 726.7 L293.3 726.4 L296.3 726 L299.2 725.6 L302.2 725.2 L305.2 724.8 L308.2 724.4 L311.1 724.1 L314.1 723.7 L317.1 723.3 L320.1 722.8 L323 722.2 L326 721.2 L329 719.8 L331.9 718.1 L334.9 716.2 L337.9 714.3 L340.9 712.4 L343.8 710.2 L346.8 707.9 L349.8 705.6 L352.8 703.3 L355.7 701.3 L358.7 699.5 L361.7 697.5 L364.7 695.6 L367.6 694 L370.6 693 L373.6 692.7 L376.6 692.7 L379.5 692.8 L382.5 692.8 L385.5 692.9 L388.5 693 L391.4 693.1 L394.4 693.6 L397.4 694.2 L400.4 694.8 L403.3 695.4 L406.3 695.7 L409.3 695.9 L412.3 696 L415.2 696.1 L418.2 696.2 L421.2 696.3 L424.2 696.3 L427.1 695.7 L430.1 694.5 L433.1 692.9 L436.1 691.2 L439 689.4 L442 687.8 L445 686.1 L448 684.2 L450.9 682.3 L453.9 680.1 L456.9 677.8 L473.7 659.8 L490.4 634.1 L507.2 598.5 L524 552.8 L540.8 511.8 L557.6 530.7 L574.4 617.1 L591.2 688.8 L607.9 722 L624.7 728.9 L641.5 729.2 L649.9 729.2" stroke="#0000ff" stroke-width="2.8" fill="none" stroke-linejoin="round" stroke-dasharray="11.3 7.8"/>
<path d="M213.5 729.1 L221.9 729.1 L224.9 729 L227.8 729 L230.8 729 L233.8 729 L236.8 728.9 L239.7 728.9 L242.7 728.8 L245.7 728.8 L248.7 728.7 L251.6 728.7 L254.6 728.6 L257.6 728.5 L260.6 728.5 L263.5 728.4 L266.5 728.3 L269.5 728.1 L272.5 728 L275.4 727.8 L278.4 727.7 L281.4 727.4 L284.4 727.2 L287.3 727 L290.3 726.7 L293.3 726.4 L296.3 726.1 L299.2 725.7 L302.2 725.3 L305.2 724.8 L308.2 724.3 L311.1 723.7 L314.1 723 L317.1 722.2 L320.1 721.4 L323 720.4 L326 719.2 L329 717.8 L331.9 716.2 L334.9 714.5 L337.9 712.7 L340.9 710.9 L343.8 708.8 L346.8 706.6 L349.8 704.3 L352.8 702.1 L355.7 700.1 L358.7 698.3 L361.7 696.4 L364.7 694.6 L367.6 693.1 L370.6 692.1 L373.6 691.8 L376.6 691.9 L379.5 691.9 L382.5 692.1 L385.5 692.2 L388.5 692.4 L391.4 692.6 L394.4 692.9 L397.4 693.4 L400.4 693.9 L403.3 694.4 L406.3 694.8 L409.3 695.1 L412.3 695.5 L415.2 695.8 L418.2 696.1 L421.2 696.3 L424.2 696.3 L427.1 695.7 L430.1 694.5 L433.1 692.9 L436.1 691.2 L439 689.4 L442 687.8 L445 686 L448 684.2 L450.9 682.1 L453.9 680 L456.9 677.8 L473.7 662.2 L490.4 637.1 L507.2 602.1 L524 557.3 L540.8 516.3 L557.6 526.2 L574.4 608.1 L591.2 682.9 L607.9 718.4 L624.7 728 L641.5 729.2 L649.9 729.2" stroke="#00ff00" stroke-width="2.8" fill="none" stroke-linejoin="round" stroke-dasharray="2.4 3.73"/>
<path d="M213.5 729.1 L221.9 729.1 L224.9 729 L227.8 729 L230.8 729 L233.8 729 L236.8 728.9 L239.7 728.9 L242.7 728.8 L245.7 728.8 L248.7 728.7 L251.6 728.7 L254.6 728.6 L257.6 728.5 L260.6 728.5 L263.5 728.4 L266.5 728.3 L269.5 728.1 L272.5 728 L275.4 727.8 L278.4 727.7 L281.4 727.4 L284.4 727.2 L287.3 727 L290.3 726.7 L293.3 726.4 L296.3 726 L299.2 725.6 L302.2 725.2 L305.2 724.8 L308.2 724.4 L311.1 724.1 L314.1 723.7 L317.1 723.3 L320.1 722.8 L323 722.2 L326 721.4 L329 720.4 L331.9 719.2 L334.9 717.9 L337.9 716.5 L340.9 715 L343.8 713.1 L346.8 711.1 L349.8 708.9 L352.8 706.8 L355.7 704.9 L358.7 703.2 L361.7 701.3 L364.7 699.6 L367.6 698 L370.6 696.9 L373.6 696.2 L376.6 695.8 L379.5 695.4 L382.5 695.1 L385.5 694.9 L388.5 694.8 L391.4 694.8 L394.4 694.9 L397.4 695.1 L400.4 695.3 L403.3 695.5 L406.3 695.7 L409.3 695.8 L412.3 696 L415.2 696.1 L418.2 696.2 L421.2 696.3 L424.2 696.3 L427.1 695.7 L430.1 694.5 L433.1 692.9 L436.1 691.2 L439 689.4 L442 687.8 L445 686 L448 684.2 L450.9 682.1 L453.9 680 L456.9 677.8 L473.7 662.2 L490.4 637.1 L507.2 602.1 L524 557.3 L540.8 517.8 L557.6 523.2 L574.4 600.6 L591.2 676.9 L607.9 715.4 L624.7 728 L641.5 729.2 L649.9 729.2" stroke="#ff0000" stroke-width="2.9" fill="none" stroke-linejoin="round"/>
<path d="M213.5 729.2 L230.3 729.2 L230.3 729.2 L247.1 729.2 L247.1 729.2 L263.9 729.2 L263.9 729.2 L280.6 729.2 L280.6 729.2 L297.4 729.2 L297.4 729.2 L314.2 729.2 L314.2 729.2 L331 729.2 L331 729.2 L347.8 729.2 L347.8 729.2 L364.6 729.2 L364.6 729.2 L381.3 729.2 L381.3 729.2 L398.1 729.2 L398.1 728 L414.9 728 L414.9 725.3 L431.7 725.3 L431.7 721.4 L448.5 721.4 L448.5 711.3 L465.3 711.3 L465.3 691.2 L482.1 691.2 L482.1 658.3 L498.8 658.3 L498.8 582.4 L515.6 582.4 L515.6 482.2 L532.4 482.2 L532.4 451.1 L549.2 451.1 L549.2 489.1 L566 489.1 L566 583.3 L582.8 583.3 L582.8 645.5 L599.5 645.5 L599.5 697.8 L616.3 697.8 L616.3 722 L633.1 722 L633.1 728.3 L649.9 728.3" stroke="#000" stroke-width="1.3" fill="none" stroke-dasharray="27.4 8.3" stroke-dashoffset="6"/>
<path d="M314.2 723.5H347.8 M314.2 719.8v7.4 M347.8 719.8v7.4 M331.0 717.8V729.2 M327.3 717.8h7.4 M327.3 729.2h7.4 M347.8 723.5H381.3 M347.8 719.8v7.4 M381.3 719.8v7.4 M364.6 717.8V729.2 M360.9 717.8h7.4 M360.9 729.2h7.4 M381.3 676.0H414.9 M381.3 672.3v7.4 M414.9 672.3v7.4 M398.1 647.3V704.7 M394.4 647.3h7.4 M394.4 704.7h7.4 M414.9 665.2H448.5 M414.9 661.5v7.4 M448.5 661.5v7.4 M431.7 635.3V695.1 M428.0 635.3h7.4 M428.0 695.1h7.4 M448.5 595.5H482.1 M448.5 591.8v7.4 M482.1 591.8v7.4 M465.3 551.3V639.8 M461.6 551.3h7.4 M461.6 639.8h7.4 M482.1 601.2H515.6 M482.1 597.5v7.4 M515.6 597.5v7.4 M498.8 556.4V646.1 M495.1 556.4h7.4 M495.1 646.1h7.4 M515.6 551.3H549.2 M515.6 547.6v7.4 M549.2 547.6v7.4 M532.4 500.5V602.1 M528.7 500.5h7.4 M528.7 602.1h7.4 M549.2 631.7H582.8 M549.2 628.0v7.4 M582.8 628.0v7.4 M566.0 594.1V669.4 M562.3 594.1h7.4 M562.3 669.4h7.4" stroke="#a3a3a3" stroke-width="1.3" fill="none"/>
<circle cx="331.0" cy="723.5" r="3.3" fill="none" stroke="#a3a3a3" stroke-width="1.4"/>
<circle cx="364.6" cy="723.5" r="3.3" fill="none" stroke="#a3a3a3" stroke-width="1.4"/>
<circle cx="398.1" cy="676.0" r="3.3" fill="none" stroke="#a3a3a3" stroke-width="1.4"/>
<circle cx="431.7" cy="665.2" r="3.3" fill="none" stroke="#a3a3a3" stroke-width="1.4"/>
<circle cx="465.3" cy="595.5" r="3.3" fill="none" stroke="#a3a3a3" stroke-width="1.4"/>
<circle cx="498.8" cy="601.2" r="3.3" fill="none" stroke="#a3a3a3" stroke-width="1.4"/>
<circle cx="532.4" cy="551.3" r="3.3" fill="none" stroke="#a3a3a3" stroke-width="1.4"/>
<circle cx="566.0" cy="631.7" r="3.3" fill="none" stroke="#a3a3a3" stroke-width="1.4"/>
<path d="M364.6 705.0H381.3 M364.6 701.3v7.4 M381.3 701.3v7.4 M373.0 697.2V712.8 M369.3 697.2h7.4 M369.3 712.8h7.4 M381.3 702.9H398.1 M381.3 699.2v7.4 M398.1 699.2v7.4 M389.7 694.8V711.0 M386.0 694.8h7.4 M386.0 711.0h7.4 M398.1 696.3H414.9 M398.1 692.6v7.4 M414.9 692.6v7.4 M406.5 687.3V705.3 M402.8 687.3h7.4 M402.8 705.3h7.4 M414.9 708.6H431.7 M414.9 704.9v7.4 M431.7 704.9v7.4 M423.3 700.8V716.3 M419.6 700.8h7.4 M419.6 716.3h7.4 M431.7 675.7H448.5 M431.7 672.0v7.4 M448.5 672.0v7.4 M440.1 663.7V687.6 M436.4 663.7h7.4 M436.4 687.6h7.4 M448.5 660.4H465.3 M448.5 656.7v7.4 M465.3 656.7v7.4 M456.9 645.8V675.1 M453.2 645.8h7.4 M453.2 675.1h7.4 M465.3 643.1H482.1 M465.3 639.4v7.4 M482.1 639.4v7.4 M473.7 625.7V660.4 M470.0 625.7h7.4 M470.0 660.4h7.4 M482.1 580.0H498.8 M482.1 576.3v7.4 M498.8 576.3v7.4 M490.4 558.5V601.5 M486.7 558.5h7.4 M486.7 601.5h7.4 M498.8 577.3H515.6 M498.8 573.6v7.4 M515.6 573.6v7.4 M507.2 556.1V598.5 M503.5 556.1h7.4 M503.5 598.5h7.4 M515.6 532.2H532.4 M515.6 528.5v7.4 M532.4 528.5v7.4 M524.0 508.2V556.1 M520.3 508.2h7.4 M520.3 556.1h7.4 M532.4 538.4H549.2 M532.4 534.7v7.4 M549.2 534.7v7.4 M540.8 514.5V562.4 M537.1 514.5h7.4 M537.1 562.4h7.4 M549.2 553.1H566.0 M549.2 549.4v7.4 M566.0 549.4v7.4 M557.6 529.5V576.7 M553.9 529.5h7.4 M553.9 576.7h7.4 M566.0 643.1H582.8 M566.0 639.4v7.4 M582.8 639.4v7.4 M574.4 626.9V659.2 M570.7 626.9h7.4 M570.7 659.2h7.4 M582.8 687.6H599.5 M582.8 683.9v7.4 M599.5 683.9v7.4 M591.2 676.6V698.7 M587.5 676.6h7.4 M587.5 698.7h7.4 M599.5 717.8H616.3 M599.5 714.1v7.4 M616.3 714.1v7.4 M607.9 711.6V724.1 M604.2 711.6h7.4 M604.2 724.1h7.4 M616.3 724.7H633.1 M616.3 721.0v7.4 M633.1 721.0v7.4 M624.7 719.9V729.5 M621.0 719.9h7.4 M621.0 729.5h7.4" stroke="#a3a3a3" stroke-width="1.3" fill="none"/>
<circle cx="373.0" cy="705.0" r="3.8" fill="#a3a3a3"/>
<circle cx="389.7" cy="702.9" r="3.8" fill="#a3a3a3"/>
<circle cx="406.5" cy="696.3" r="3.8" fill="#a3a3a3"/>
<circle cx="423.3" cy="708.6" r="3.8" fill="#a3a3a3"/>
<circle cx="440.1" cy="675.7" r="3.8" fill="#a3a3a3"/>
<circle cx="456.9" cy="660.4" r="3.8" fill="#a3a3a3"/>
<circle cx="473.7" cy="643.1" r="3.8" fill="#a3a3a3"/>
<circle cx="490.4" cy="580.0" r="3.8" fill="#a3a3a3"/>
<circle cx="507.2" cy="577.3" r="3.8" fill="#a3a3a3"/>
<circle cx="524.0" cy="532.2" r="3.8" fill="#a3a3a3"/>
<circle cx="540.8" cy="538.4" r="3.8" fill="#a3a3a3"/>
<circle cx="557.6" cy="553.1" r="3.8" fill="#a3a3a3"/>
<circle cx="574.4" cy="643.1" r="3.8" fill="#a3a3a3"/>
<circle cx="591.2" cy="687.6" r="3.8" fill="#a3a3a3"/>
<circle cx="607.9" cy="717.8" r="3.8" fill="#a3a3a3"/>
<circle cx="624.7" cy="724.7" r="3.8" fill="#a3a3a3"/>
</g>
<path d="M230.28 729.20v-4.8 M230.28 430.20v4.8 M247.07 729.20v-4.8 M247.07 430.20v4.8 M263.85 729.20v-4.8 M263.85 430.20v4.8 M280.64 729.20v-4.8 M280.64 430.20v4.8 M314.21 729.20v-4.8 M314.21 430.20v4.8 M330.99 729.20v-4.8 M330.99 430.20v4.8 M347.78 729.20v-4.8 M347.78 430.20v4.8 M364.56 729.20v-4.8 M364.56 430.20v4.8 M398.13 729.20v-4.8 M398.13 430.20v4.8 M414.92 729.20v-4.8 M414.92 430.20v4.8 M431.70 729.20v-4.8 M431.70 430.20v4.8 M448.48 729.20v-4.8 M448.48 430.20v4.8 M482.05 729.20v-4.8 M482.05 430.20v4.8 M498.84 729.20v-4.8 M498.84 430.20v4.8 M515.62 729.20v-4.8 M515.62 430.20v4.8 M532.41 729.20v-4.8 M532.41 430.20v4.8 M565.98 729.20v-4.8 M565.98 430.20v4.8 M582.76 729.20v-4.8 M582.76 430.20v4.8 M599.55 729.20v-4.8 M599.55 430.20v4.8 M616.33 729.20v-4.8 M616.33 430.20v4.8 M213.50 729.20v-9.5 M213.50 430.20v9.5 M297.42 729.20v-9.5 M297.42 430.20v9.5 M381.35 729.20v-9.5 M381.35 430.20v9.5 M465.27 729.20v-9.5 M465.27 430.20v9.5 M549.19 729.20v-9.5 M549.19 430.20v9.5 M633.12 729.20v-9.5 M633.12 430.20v9.5 M213.50 714.25h4.8 M649.90 714.25h-4.8 M213.50 699.30h4.8 M649.90 699.30h-4.8 M213.50 684.35h4.8 M649.90 684.35h-4.8 M213.50 654.45h4.8 M649.90 654.45h-4.8 M213.50 639.50h4.8 M649.90 639.50h-4.8 M213.50 624.55h4.8 M649.90 624.55h-4.8 M213.50 594.65h4.8 M649.90 594.65h-4.8 M213.50 579.70h4.8 M649.90 579.70h-4.8 M213.50 564.75h4.8 M649.90 564.75h-4.8 M213.50 534.85h4.8 M649.90 534.85h-4.8 M213.50 519.90h4.8 M649.90 519.90h-4.8 M213.50 504.95h4.8 M649.90 504.95h-4.8 M213.50 475.05h4.8 M649.90 475.05h-4.8 M213.50 460.10h4.8 M649.90 460.10h-4.8 M213.50 445.15h4.8 M649.90 445.15h-4.8 M213.50 729.20h9.5 M649.90 729.20h-9.5 M213.50 669.40h9.5 M649.90 669.40h-9.5 M213.50 609.60h9.5 M649.90 609.60h-9.5 M213.50 549.80h9.5 M649.90 549.80h-9.5 M213.50 490.00h9.5 M649.90 490.00h-9.5 M213.50 430.20h9.5 M649.90 430.20h-9.5" stroke="#000" stroke-width="1.50" fill="none"/>
<rect x="213.50" y="430.20" width="436.40" height="299.00" fill="none" stroke="#000" stroke-width="1.60"/>
<text transform="translate(213.7,747.4) scale(1.16,1)" font-family="'Liberation Sans', sans-serif" font-size="13.2px" font-weight="bold" text-anchor="middle" letter-spacing="0.35">&#8722;2</text>
<text transform="translate(297.6,747.4) scale(1.16,1)" font-family="'Liberation Sans', sans-serif" font-size="13.2px" font-weight="bold" text-anchor="middle" letter-spacing="0.35">&#8722;1.5</text>
<text transform="translate(381.5,747.4) scale(1.16,1)" font-family="'Liberation Sans', sans-serif" font-size="13.2px" font-weight="bold" text-anchor="middle" letter-spacing="0.35">&#8722;1</text>
<text transform="translate(465.5,747.4) scale(1.16,1)" font-family="'Liberation Sans', sans-serif" font-size="13.2px" font-weight="bold" text-anchor="middle" letter-spacing="0.35">&#8722;0.5</text>
<text transform="translate(549.4,747.4) scale(1.16,1)" font-family="'Liberation Sans', sans-serif" font-size="13.2px" font-weight="bold" text-anchor="middle" letter-spacing="0.35">0</text>
<text transform="translate(633.3,747.4) scale(1.16,1)" font-family="'Liberation Sans', sans-serif" font-size="13.2px" font-weight="bold" text-anchor="middle" letter-spacing="0.35">0.5</text>
<text transform="translate(206.6,734.4) scale(1.16,1)" font-family="'Liberation Sans', sans-serif" font-size="13.2px" font-weight="bold" text-anchor="end" letter-spacing="0.35">0</text>
<text transform="translate(206.6,674.6) scale(1.16,1)" font-family="'Liberation Sans', sans-serif" font-size="13.2px" font-weight="bold" text-anchor="end" letter-spacing="0.35">20</text>
<text transform="translate(206.6,614.8) scale(1.16,1)" font-family="'Liberation Sans', sans-serif" font-size="13.2px" font-weight="bold" text-anchor="end" letter-spacing="0.35">40</text>
<text transform="translate(206.6,555.0) scale(1.16,1)" font-family="'Liberation Sans', sans-serif" font-size="13.2px" font-weight="bold" text-anchor="end" letter-spacing="0.35">60</text>
<text transform="translate(206.6,495.2) scale(1.16,1)" font-family="'Liberation Sans', sans-serif" font-size="13.2px" font-weight="bold" text-anchor="end" letter-spacing="0.35">80</text>
<text transform="translate(206.6,435.4) scale(1.16,1)" font-family="'Liberation Sans', sans-serif" font-size="13.2px" font-weight="bold" text-anchor="end" letter-spacing="0.35">100</text>
<text x="615.0" y="456.3" font-family="'Liberation Sans', sans-serif" font-size="18.0px" font-weight="normal" text-anchor="start" fill="#000" letter-spacing="1.50" stroke="#000" stroke-width="0.4">(c)</text>
<path d="M220.9 451.5H248.8" stroke="#000" stroke-width="1.3"/>
<circle cx="243.2" cy="466.5" r="3.4" fill="#a3a3a3"/>
<circle cx="243.2" cy="481.5" r="3.3" fill="none" stroke="#a3a3a3" stroke-width="1.3"/>
<text x="257.6" y="455.6" font-family="'Liberation Serif', serif" font-size="14.0px" font-weight="bold" fill="#000" textLength="80.2" lengthAdjust="spacingAndGlyphs" >Casagrande</text>
<text x="344.2" y="455.6" font-family="'Liberation Serif', serif" font-size="14.0px" font-weight="bold" fill="#000" textLength="13.8" lengthAdjust="spacingAndGlyphs" >et</text>
<text x="364.4" y="455.6" font-family="'Liberation Serif', serif" font-size="14.0px" font-weight="bold" fill="#000" textLength="16.8" lengthAdjust="spacingAndGlyphs" >al.</text>
<text x="388.8" y="455.6" font-family="'Liberation Serif', serif" font-size="14.0px" font-weight="bold" fill="#000" textLength="42.8" lengthAdjust="spacingAndGlyphs" >(2011)</text>
<text x="257.8" y="470.7" font-family="'Liberation Serif', serif" font-size="14.0px" font-weight="normal" fill="#a3a3a3" textLength="79.1" lengthAdjust="spacingAndGlyphs" stroke="#a3a3a3" stroke-width="0.6">Edvardsson</text>
<text x="344.2" y="470.7" font-family="'Liberation Serif', serif" font-size="14.0px" font-weight="normal" fill="#a3a3a3" textLength="13.2" lengthAdjust="spacingAndGlyphs" stroke="#a3a3a3" stroke-width="0.6">et</text>
<text x="364.4" y="470.7" font-family="'Liberation Serif', serif" font-size="14.0px" font-weight="normal" fill="#a3a3a3" textLength="16.2" lengthAdjust="spacingAndGlyphs" stroke="#a3a3a3" stroke-width="0.6">al.</text>
<text x="388.2" y="470.7" font-family="'Liberation Serif', serif" font-size="14.0px" font-weight="normal" fill="#a3a3a3" textLength="43.1" lengthAdjust="spacingAndGlyphs" stroke="#a3a3a3" stroke-width="0.6">(1993)</text>
<text x="257.8" y="485.7" font-family="'Liberation Serif', serif" font-size="14.0px" font-weight="normal" fill="#a3a3a3" textLength="31.5" lengthAdjust="spacingAndGlyphs" stroke="#a3a3a3" stroke-width="0.6">Wyse</text>
<text x="296.2" y="485.7" font-family="'Liberation Serif', serif" font-size="14.0px" font-weight="normal" fill="#a3a3a3" textLength="10.0" lengthAdjust="spacingAndGlyphs" stroke="#a3a3a3" stroke-width="0.6">&amp;</text>
<text x="313.4" y="485.7" font-family="'Liberation Serif', serif" font-size="14.0px" font-weight="normal" fill="#a3a3a3" textLength="54.0" lengthAdjust="spacingAndGlyphs" stroke="#a3a3a3" stroke-width="0.6">Gilmore</text>
<text x="374.7" y="485.7" font-family="'Liberation Serif', serif" font-size="14.0px" font-weight="normal" fill="#a3a3a3" textLength="44.1" lengthAdjust="spacingAndGlyphs" stroke="#a3a3a3" stroke-width="0.6">(1995)</text>
<text x="404.6" y="772.0" font-family="'Liberation Serif', serif" font-size="14.0px" font-weight="bold" text-anchor="start" fill="#000" letter-spacing="0.50"  textLength="53.5" lengthAdjust="spacingAndGlyphs">[Fe/H]</text>
<g transform="translate(169,610.4) rotate(-90)">
<text x="0.0" y="0.0" font-family="'Liberation Serif', serif" font-size="14.0px" font-weight="bold" fill="#000" textLength="62.0" lengthAdjust="spacingAndGlyphs" >Number</text>
</g>
</svg>
</body></html>
